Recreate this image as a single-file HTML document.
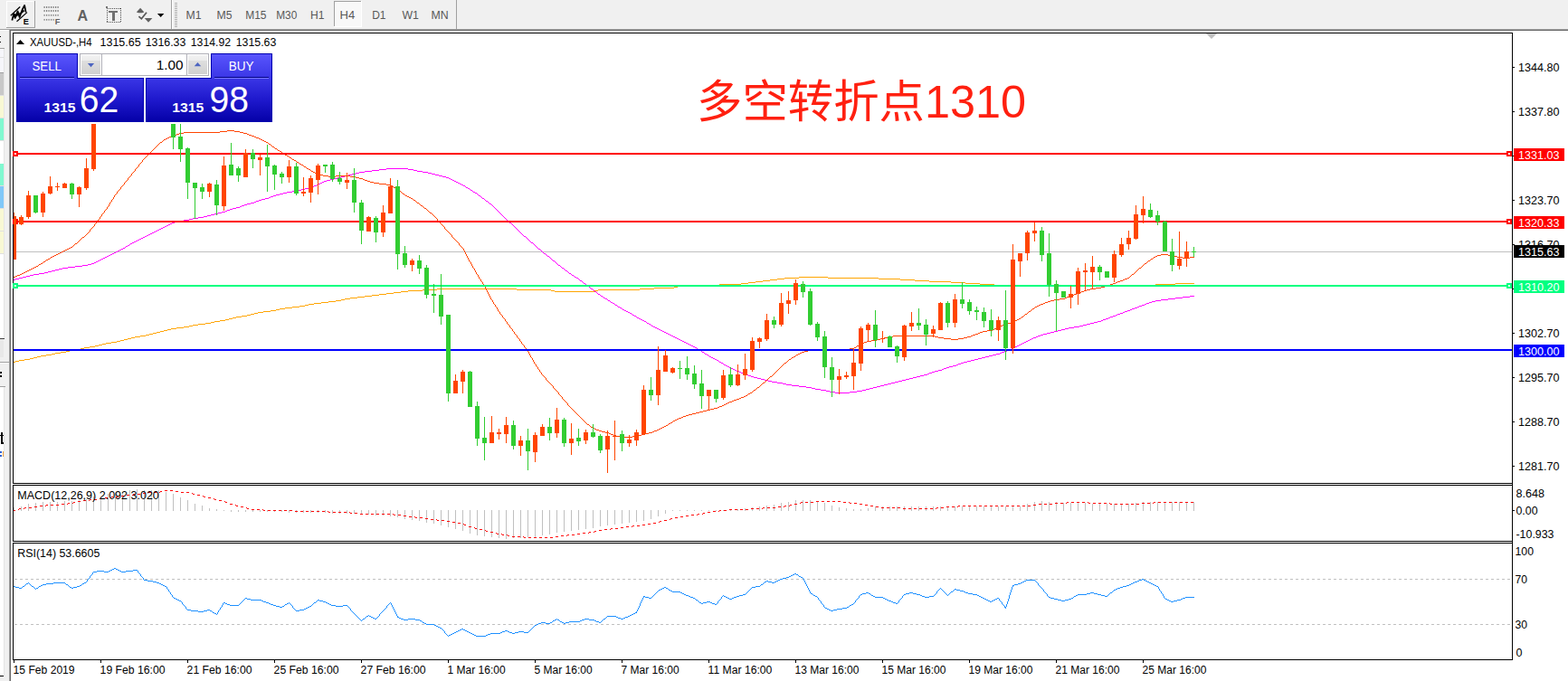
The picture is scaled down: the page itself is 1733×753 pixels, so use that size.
<!DOCTYPE html>
<html><head><meta charset="utf-8"><title>XAUUSD H4</title><style>html,body{margin:0;padding:0;background:#fff;width:1733px;height:753px;overflow:hidden}</style></head><body>
<svg width="1733" height="753" viewBox="0 0 1733 753" style="display:block;font-family:'Liberation Sans',sans-serif">
<defs>
<linearGradient id="gs" gradientUnits="userSpaceOnUse" x1="0" y1="59" x2="0" y2="135"><stop offset="0" stop-color="#5a56fe"/><stop offset="0.36" stop-color="#3a36e6"/><stop offset="0.68" stop-color="#1e18cc"/><stop offset="1" stop-color="#0400a6"/></linearGradient>
<linearGradient id="gb" x1="0" y1="0" x2="0" y2="1"><stop offset="0" stop-color="#f2f2f2"/><stop offset="0.27" stop-color="#ececec"/><stop offset="0.3" stop-color="#dedede"/><stop offset="1" stop-color="#d0d0d0"/></linearGradient>
<clipPath id="cm"><rect x="15" y="37" width="1656" height="497"/></clipPath>
</defs>
<g shape-rendering="crispEdges">
<rect x="0" y="0" width="1733" height="753" fill="#fff"/>
<rect x="0" y="0" width="1733" height="32" fill="#f0f0f0"/>
<rect x="0" y="32" width="1733" height="1" fill="#a0a0a0"/>
<rect x="10" y="33" width="1723" height="1" fill="#696969"/>
<rect x="0" y="34" width="10" height="719" fill="#f0f0f0"/>
<rect x="10" y="33" width="1" height="720" fill="#a0a0a0"/>
<rect x="11" y="33" width="1" height="720" fill="#696969"/>
<rect x="0" y="40" width="1" height="1" fill="#000"/>
<rect x="0" y="46" width="1" height="1" fill="#000"/>
<rect x="0" y="53" width="5" height="1" fill="#a0a0a0"/>
<rect x="0" y="54" width="5" height="26" fill="#f6f6fa"/>
<rect x="0" y="63" width="5" height="1" fill="#e0e0e0"/>
<rect x="0" y="80" width="4" height="1" fill="#a0a0a0"/>
<rect x="0" y="81" width="4" height="25" fill="#c8c8c8"/>
<rect x="0" y="105" width="4" height="1" fill="#e0e0e0"/>
<rect x="0" y="106" width="4" height="25" fill="#f8f8d4"/>
<rect x="0" y="130" width="4" height="1" fill="#e0e0e0"/>
<rect x="0" y="131" width="4" height="25" fill="#80f8d0"/>
<rect x="0" y="155" width="4" height="1" fill="#e0e0e0"/>
<rect x="0" y="156" width="4" height="25" fill="#ffffff"/>
<rect x="0" y="181" width="4" height="25" fill="#80f8d0"/>
<rect x="0" y="205" width="4" height="1" fill="#e0e0e0"/>
<rect x="0" y="206" width="4" height="25" fill="#80c8f8"/>
<rect x="0" y="230" width="4" height="1" fill="#e0e0e0"/>
<rect x="0" y="231" width="4" height="25" fill="#f8f8d4"/>
<rect x="0" y="255" width="4" height="1" fill="#e0e0e0"/>
<rect x="0" y="256" width="4" height="25" fill="#f8f8d4"/>
<rect x="0" y="280" width="4" height="1" fill="#e0e0e0"/>
<rect x="0" y="281" width="4" height="93" fill="#ffffff"/>
<rect x="4" y="54" width="1" height="320" fill="#e4e4e4"/>
<rect x="0" y="374" width="5" height="1" fill="#404040"/>
<rect x="0" y="375" width="4" height="20" fill="#e8e8e8"/>
<rect x="0" y="400" width="10" height="1" fill="#a0a0a0"/>
<rect x="0" y="401" width="10" height="1" fill="#fff"/>
<rect x="0" y="411" width="2" height="2" fill="#000"/>
<rect x="0" y="415" width="2" height="2" fill="#000"/>
<rect x="0" y="427" width="6" height="1" fill="#a0a0a0"/>
<rect x="0" y="428" width="4" height="319" fill="#fff"/>
<rect x="4" y="428" width="1" height="319" fill="#e4e4e4"/>
<rect x="0" y="747" width="4" height="1" fill="#000"/>
<rect x="1" y="478" width="2" height="13" fill="#000"/>
<rect x="0" y="481" width="4" height="1" fill="#000"/>
<rect x="2" y="489" width="2" height="2" fill="#000"/>
<rect x="0" y="499" width="2" height="2" fill="#3060d0"/>
<rect x="0" y="503" width="2" height="2" fill="#3060d0"/>
<rect x="3" y="499" width="1" height="6" fill="#f0a040"/>
<rect x="14" y="36" width="1658" height="1" fill="#000"/>
<rect x="14" y="534" width="1658" height="1" fill="#000"/>
<rect x="14" y="36" width="1" height="499" fill="#000"/>
<rect x="14" y="536" width="1658" height="1" fill="#000"/>
<rect x="14" y="598" width="1658" height="1" fill="#000"/>
<rect x="14" y="536" width="1" height="63" fill="#000"/>
<rect x="14" y="600" width="1658" height="1" fill="#000"/>
<rect x="14" y="729" width="1658" height="1" fill="#000"/>
<rect x="14" y="600" width="1" height="130" fill="#000"/>
<rect x="1671" y="36" width="1" height="694" fill="#000"/>
<polygon points="1333,37 1345,37 1339,43" fill="#c0c0c0" shape-rendering="auto"/>
<g clip-path="url(#cm)">
<rect x="15" y="278" width="1656" height="1" fill="#c0c0c0"/>
<path d="M267,349h6v1h-6zM233,356h4v1h-4zM851,309h8v1h-8zM995,309h16v1h-16zM771,315h24v1h-24zM1099,315h40v1h-40zM1273,315h4v1h-4zM749,316h22v1h-22zM1139,316h134v1h-134zM443,322h8v1h-8zM613,322h44v1h-44zM819,313h8v1h-8zM1067,313h16v1h-16zM1299,313h21v1h-21zM253,352h4v1h-4zM859,308h8v1h-8zM971,308h24v1h-24zM355,334h8v1h-8zM795,314h24v1h-24zM1083,314h16v1h-16zM1277,314h22v1h-22zM467,320h16v1h-16zM571,320h38v1h-38zM661,320h46v1h-46zM395,328h8v1h-8zM37,395h4v1h-4zM867,307h16v1h-16zM915,307h56v1h-56zM281,346h4v1h-4zM387,329h8v1h-8zM883,306h32v1h-32zM483,319h88v1h-88zM707,319h16v1h-16zM243,354h6v1h-6zM309,341h6v1h-6zM381,330h6v1h-6zM377,331h4v1h-4zM291,344h8v1h-8zM51,392h6v1h-6zM723,318h22v1h-22zM73,388h4v1h-4zM67,389h6v1h-6zM315,340h8v1h-8zM827,312h8v1h-8zM1051,312h16v1h-16zM305,342h4v1h-4zM347,335h8v1h-8zM161,370h4v1h-4zM129,377h4v1h-4zM89,385h4v1h-4zM155,371h6v1h-6zM189,363h6v1h-6zM835,311h8v1h-8zM1027,311h24v1h-24zM149,372h6v1h-6zM177,366h4v1h-4zM137,375h4v1h-4zM203,361h6v1h-6zM165,369h4v1h-4zM341,336h6v1h-6zM411,326h8v1h-8zM745,317h4v1h-4zM123,378h6v1h-6zM337,337h4v1h-4zM117,379h6v1h-6zM219,358h8v1h-8zM427,324h8v1h-8zM237,355h6v1h-6zM227,357h6v1h-6zM843,310h8v1h-8zM1011,310h16v1h-16zM61,390h6v1h-6zM27,397h6v1h-6zM451,321h16v1h-16zM609,321h4v1h-4zM657,321h4v1h-4zM45,393h6v1h-6zM15,400h2v1h-2zM41,394h4v1h-4zM403,327h8v1h-8zM331,338h6v1h-6zM323,339h8v1h-8zM105,382h4v1h-4zM99,383h6v1h-6zM93,384h6v1h-6zM213,359h6v1h-6zM249,353h4v1h-4zM371,332h6v1h-6zM261,350h6v1h-6zM257,351h4v1h-4zM435,323h8v1h-8zM277,347h4v1h-4zM21,398h6v1h-6zM77,387h6v1h-6zM83,386h6v1h-6zM113,380h4v1h-4zM195,362h8v1h-8zM419,325h8v1h-8zM141,374h4v1h-4zM299,343h6v1h-6zM145,373h4v1h-4zM133,376h4v1h-4zM173,367h4v1h-4zM185,364h4v1h-4zM209,360h4v1h-4zM285,345h6v1h-6zM273,348h4v1h-4zM363,333h8v1h-8zM57,391h4v1h-4zM33,396h4v1h-4zM109,381h4v1h-4zM169,368h4v1h-4zM181,365h4v1h-4zM17,399h4v1h-4z" fill="#ffa500"/>
<path d="M696,346h2v1h-2zM1238,346h3v1h-3zM419,187h8v1h-8zM451,187h6v1h-6zM254,231h3v1h-3zM350,204h2v1h-2zM510,204h2v1h-2zM403,189h8v1h-8zM461,189h6v1h-6zM822,413h3v1h-3zM1025,413h2v1h-2zM313,213h4v1h-4zM525,213h2v1h-2zM710,354h2v1h-2zM1217,354h2v1h-2zM766,383h2v1h-2zM1122,383h2v1h-2zM104,290h2v1h-2zM57,299h4v1h-4zM625,299h2v1h-2zM768,384h2v1h-2zM1120,384h2v1h-2zM760,380h2v1h-2zM1128,380h2v1h-2zM203,243h6v1h-6zM830,416h3v1h-3zM1013,416h4v1h-4zM667,329h2v1h-2zM1299,329h8v1h-8zM715,357h2v1h-2zM1205,357h4v1h-4zM1265,336h2v1h-2zM776,389h2v1h-2zM1107,389h3v1h-3zM427,186h24v1h-24zM385,193h4v1h-4zM481,193h4v1h-4zM883,427h8v1h-8zM969,427h4v1h-4zM393,191h4v1h-4zM473,191h4v1h-4zM841,419h4v1h-4zM1001,419h4v1h-4zM720,360h2v1h-2zM1193,360h4v1h-4zM781,392h2v1h-2zM1097,392h4v1h-4zM923,434h16v1h-16zM108,288h2v1h-2zM611,288h2v1h-2zM683,339h2v1h-2zM1257,339h2v1h-2zM764,382h2v1h-2zM1124,382h2v1h-2zM69,296h6v1h-6zM621,296h2v1h-2zM738,369h2v1h-2zM1153,369h4v1h-4zM685,340h2v1h-2zM1254,340h3v1h-3zM219,240h6v1h-6zM797,401h2v1h-2zM1062,401h3v1h-3zM853,422h6v1h-6zM989,422h4v1h-4zM657,322h2v1h-2zM786,395h2v1h-2zM1085,395h4v1h-4zM245,234h4v1h-4zM128,278h2v1h-2zM411,188h8v1h-8zM457,188h4v1h-4zM790,397h2v1h-2zM1077,397h4v1h-4zM347,205h3v1h-3zM512,205h2v1h-2zM15,309h2v1h-2zM297,218h2v1h-2zM152,265h2v1h-2zM913,432h4v1h-4zM947,432h6v1h-6zM146,268h2v1h-2zM587,268h2v1h-2zM345,206h2v1h-2zM172,255h2v1h-2zM302,216h3v1h-3zM529,216h2v1h-2zM869,425h6v1h-6zM977,425h4v1h-4zM833,417h4v1h-4zM1009,417h4v1h-4zM792,398h2v1h-2zM1073,398h4v1h-4zM233,237h4v1h-4zM110,287h2v1h-2zM43,302h6v1h-6zM629,302h2v1h-2zM358,200h3v1h-3zM502,200h2v1h-2zM891,428h6v1h-6zM965,428h4v1h-4zM286,221h3v1h-3zM37,303h6v1h-6zM184,249h2v1h-2zM672,332h2v1h-2zM1277,332h6v1h-6zM381,194h4v1h-4zM485,194h4v1h-4zM680,337h2v1h-2zM1262,337h3v1h-3zM740,370h2v1h-2zM1150,370h3v1h-3zM859,423h6v1h-6zM985,423h4v1h-4zM784,394h2v1h-2zM1089,394h4v1h-4zM800,403h2v1h-2zM1057,403h2v1h-2zM25,306h4v1h-4zM635,306h2v1h-2zM653,319h2v1h-2zM907,431h6v1h-6zM953,431h4v1h-4zM744,372h2v1h-2zM1145,372h2v1h-2zM97,292h4v1h-4zM1273,333h4v1h-4zM369,197h4v1h-4zM496,197h2v1h-2zM694,345h2v1h-2zM1241,345h2v1h-2zM91,293h6v1h-6zM617,293h2v1h-2zM305,215h4v1h-4zM277,224h4v1h-4zM677,335h2v1h-2zM1267,335h3v1h-3zM806,406h2v1h-2zM1046,406h3v1h-3zM83,294h8v1h-8zM708,353h2v1h-2zM1219,353h3v1h-3zM814,410h3v1h-3zM1033,410h4v1h-4zM389,192h4v1h-4zM477,192h4v1h-4zM875,426h8v1h-8zM973,426h4v1h-4zM1283,331h8v1h-8zM101,291h3v1h-3zM771,386h2v1h-2zM1115,386h3v1h-3zM1118,385h2v1h-2zM773,387h2v1h-2zM1113,387h2v1h-2zM649,316h2v1h-2zM273,225h4v1h-4zM541,225h2v1h-2zM661,325h2v1h-2zM675,334h2v1h-2zM1270,334h3v1h-3zM176,253h2v1h-2zM756,378h2v1h-2zM1132,378h2v1h-2zM758,379h2v1h-2zM1130,379h2v1h-2zM122,281h2v1h-2zM750,375h2v1h-2zM1138,375h2v1h-2zM118,283h2v1h-2zM605,283h2v1h-2zM267,227h3v1h-3zM1259,338h3v1h-3zM812,409h2v1h-2zM1037,409h4v1h-4zM827,415h3v1h-3zM1017,415h4v1h-4zM779,391h2v1h-2zM1101,391h4v1h-4zM1227,350h3v1h-3zM819,412h3v1h-3zM1027,412h3v1h-3zM136,274h2v1h-2zM688,342h2v1h-2zM1249,342h2v1h-2zM337,208h4v1h-4zM517,208h2v1h-2zM1307,328h8v1h-8zM897,429h4v1h-4zM961,429h4v1h-4zM732,366h2v1h-2zM1165,366h4v1h-4zM193,245h4v1h-4zM323,211h6v1h-6zM1251,341h3v1h-3zM917,433h6v1h-6zM939,433h8v1h-8zM309,214h4v1h-4zM33,304h4v1h-4zM632,304h2v1h-2zM901,430h6v1h-6zM957,430h4v1h-4zM241,235h4v1h-4zM299,217h3v1h-3zM730,365h2v1h-2zM1169,365h4v1h-4zM1235,347h3v1h-3zM166,258h2v1h-2zM1069,399h4v1h-4zM75,295h8v1h-8zM736,368h2v1h-2zM1157,368h4v1h-4zM706,352h2v1h-2zM1222,352h3v1h-3zM699,348h2v1h-2zM1233,348h2v1h-2zM289,220h4v1h-4zM130,277h2v1h-2zM664,327h2v1h-2zM1315,327h5v1h-5zM126,279h2v1h-2zM762,381h2v1h-2zM1126,381h2v1h-2zM49,301h4v1h-4zM329,210h4v1h-4zM520,210h2v1h-2zM160,261h2v1h-2zM579,261h2v1h-2zM180,251h2v1h-2zM373,196h4v1h-4zM493,196h3v1h-3zM361,199h4v1h-4zM500,199h2v1h-2zM356,201h2v1h-2zM504,201h2v1h-2zM397,190h6v1h-6zM467,190h6v1h-6zM154,264h2v1h-2zM168,257h2v1h-2zM61,298h4v1h-4zM341,207h4v1h-4zM515,207h2v1h-2zM742,371h2v1h-2zM1147,371h3v1h-3zM754,377h2v1h-2zM1134,377h2v1h-2zM114,285h2v1h-2zM257,230h4v1h-4zM251,232h3v1h-3zM712,355h2v1h-2zM1213,355h4v1h-4zM156,263h2v1h-2zM1105,390h2v1h-2zM229,238h4v1h-4zM845,420h4v1h-4zM997,420h4v1h-4zM722,361h2v1h-2zM1187,361h6v1h-6zM213,241h6v1h-6zM1093,393h4v1h-4zM690,343h2v1h-2zM1246,343h3v1h-3zM1110,388h3v1h-3zM65,297h4v1h-4zM724,362h2v1h-2zM1181,362h6v1h-6zM377,195h4v1h-4zM489,195h4v1h-4zM21,307h4v1h-4zM637,307h2v1h-2zM164,259h2v1h-2zM788,396h2v1h-2zM1081,396h4v1h-4zM162,260h2v1h-2zM148,267h2v1h-2zM53,300h4v1h-4zM365,198h4v1h-4zM498,198h2v1h-2zM144,269h2v1h-2zM1059,402h3v1h-3zM186,248h2v1h-2zM182,250h2v1h-2zM746,373h2v1h-2zM1142,373h3v1h-3zM748,374h2v1h-2zM1140,374h2v1h-2zM849,421h4v1h-4zM993,421h4v1h-4zM354,202h2v1h-2zM506,202h2v1h-2zM825,414h2v1h-2zM1021,414h4v1h-4zM669,330h2v1h-2zM1291,330h8v1h-8zM817,411h2v1h-2zM1030,411h3v1h-3zM352,203h2v1h-2zM508,203h2v1h-2zM174,254h2v1h-2zM837,418h4v1h-4zM1005,418h4v1h-4zM265,228h2v1h-2zM704,351h2v1h-2zM1225,351h2v1h-2zM134,275h2v1h-2zM595,275h2v1h-2zM317,212h6v1h-6zM523,212h2v1h-2zM717,358h2v1h-2zM1201,358h4v1h-4zM333,209h4v1h-4zM190,246h3v1h-3zM563,246h2v1h-2zM283,222h3v1h-3zM537,222h2v1h-2zM802,404h2v1h-2zM1053,404h4v1h-4zM645,313h2v1h-2zM726,363h2v1h-2zM1177,363h4v1h-4zM29,305h4v1h-4zM752,376h2v1h-2zM1136,376h2v1h-2zM17,308h4v1h-4zM293,219h4v1h-4zM533,219h2v1h-2zM150,266h2v1h-2zM225,239h4v1h-4zM178,252h2v1h-2zM170,256h2v1h-2zM808,407h2v1h-2zM1043,407h3v1h-3zM139,272h2v1h-2zM116,284h2v1h-2zM249,233h2v1h-2zM270,226h3v1h-3zM1197,359h4v1h-4zM795,400h2v1h-2zM1065,400h4v1h-4zM692,344h2v1h-2zM1243,344h3v1h-3zM141,271h2v1h-2zM106,289h2v1h-2zM124,280h2v1h-2zM601,280h2v1h-2zM261,229h4v1h-4zM158,262h2v1h-2zM112,286h2v1h-2zM197,244h6v1h-6zM804,405h2v1h-2zM1049,405h4v1h-4zM132,276h2v1h-2zM865,424h4v1h-4zM981,424h4v1h-4zM728,364h2v1h-2zM1173,364h4v1h-4zM734,367h2v1h-2zM1161,367h4v1h-4zM188,247h2v1h-2zM810,408h2v1h-2zM1041,408h2v1h-2zM701,349h2v1h-2zM1230,349h3v1h-3zM120,282h2v1h-2zM209,242h4v1h-4zM237,236h4v1h-4zM1209,356h4v1h-4zM281,223h2v1h-2zM641,310h2v1h-2zM548,231h1v1h-1zM663,326h1v1h-1zM614,290h1v1h-1zM644,312h1v1h-1zM560,243h1v1h-1zM679,336h1v1h-1zM557,240h1v1h-1zM551,234h1v1h-1zM659,323h1v1h-1zM599,278h1v1h-1zM640,309h1v1h-1zM532,218h1v1h-1zM584,265h1v1h-1zM514,206h1v1h-1zM573,255h1v1h-1zM554,237h1v1h-1zM610,287h1v1h-1zM536,221h1v1h-1zM631,303h1v1h-1zM567,249h1v1h-1zM616,292h1v1h-1zM674,333h1v1h-1zM528,215h1v1h-1zM540,224h1v1h-1zM619,294h1v1h-1zM671,331h1v1h-1zM615,291h1v1h-1zM770,385h1v1h-1zM571,253h1v1h-1zM603,281h1v1h-1zM544,227h1v1h-1zM682,338h1v1h-1zM703,350h1v1h-1zM594,274h1v1h-1zM666,328h1v1h-1zM562,245h1v1h-1zM522,211h1v1h-1zM687,341h1v1h-1zM527,214h1v1h-1zM552,235h1v1h-1zM531,217h1v1h-1zM698,347h1v1h-1zM576,258h1v1h-1zM794,399h1v1h-1zM620,295h1v1h-1zM535,220h1v1h-1zM598,277h1v1h-1zM600,279h1v1h-1zM628,301h1v1h-1zM569,251h1v1h-1zM583,264h1v1h-1zM575,257h1v1h-1zM624,298h1v1h-1zM608,285h1v1h-1zM547,230h1v1h-1zM549,232h1v1h-1zM582,263h1v1h-1zM778,390h1v1h-1zM555,238h1v1h-1zM558,241h1v1h-1zM783,393h1v1h-1zM652,318h1v1h-1zM775,388h1v1h-1zM623,297h1v1h-1zM577,259h1v1h-1zM578,260h1v1h-1zM586,267h1v1h-1zM627,300h1v1h-1zM589,269h1v1h-1zM799,402h1v1h-1zM566,248h1v1h-1zM568,250h1v1h-1zM643,311h1v1h-1zM572,254h1v1h-1zM545,228h1v1h-1zM519,209h1v1h-1zM634,305h1v1h-1zM639,308h1v1h-1zM585,266h1v1h-1zM556,239h1v1h-1zM570,252h1v1h-1zM574,256h1v1h-1zM655,320h1v1h-1zM592,272h1v1h-1zM607,284h1v1h-1zM550,233h1v1h-1zM543,226h1v1h-1zM719,359h1v1h-1zM591,271h1v1h-1zM613,289h1v1h-1zM546,229h1v1h-1zM581,262h1v1h-1zM609,286h1v1h-1zM561,244h1v1h-1zM597,276h1v1h-1zM565,247h1v1h-1zM143,270h1v1h-1zM590,270h1v1h-1zM138,273h1v1h-1zM593,273h1v1h-1zM604,282h1v1h-1zM559,242h1v1h-1zM553,236h1v1h-1zM714,356h1v1h-1zM539,223h1v1h-1zM660,324h1v1h-1zM656,321h1v1h-1zM651,317h1v1h-1zM647,314h1v1h-1zM648,315h1v1h-1z" fill="#ff00ff"/>
<path d="M36,296h2v1h-2zM1259,296h2v1h-2zM880,392h2v1h-2zM750,462h3v1h-3zM1195,322h3v1h-3zM987,371h46v1h-46zM1073,371h2v1h-2zM56,284h2v1h-2zM1275,284h2v1h-2zM1301,284h6v1h-6zM1315,284h5v1h-5zM336,184h2v1h-2zM1190,324h3v1h-3zM1179,328h3v1h-3zM83,269h2v1h-2zM1158,333h3v1h-3zM475,235h2v1h-2zM15,306h2v1h-2zM1129,350h2v1h-2zM1155,334h3v1h-3zM437,208h2v1h-2zM427,204h5v1h-5zM457,221h2v1h-2zM741,467h2v1h-2zM304,164h2v1h-2zM795,449h3v1h-3zM734,471h2v1h-2zM1106,360h2v1h-2zM915,386h24v1h-24zM203,146h40v1h-40zM265,146h4v1h-4zM973,374h4v1h-4zM1043,374h8v1h-8zM1059,374h6v1h-6zM91,262h2v1h-2zM753,461h2v1h-2zM1165,331h6v1h-6zM958,377h5v1h-5zM1225,315h2v1h-2zM177,157h2v1h-2zM294,157h2v1h-2zM323,176h2v1h-2zM1201,320h4v1h-4zM675,480h3v1h-3zM709,480h4v1h-4zM325,177h2v1h-2zM829,434h2v1h-2zM297,159h2v1h-2zM28,300h2v1h-2zM977,373h4v1h-4zM1037,373h6v1h-6zM1065,373h4v1h-4zM195,148h3v1h-3zM273,148h2v1h-2zM817,440h2v1h-2zM653,472h2v1h-2zM732,472h2v1h-2zM51,287h2v1h-2zM452,218h2v1h-2zM445,214h2v1h-2zM1086,366h5v1h-5zM357,194h6v1h-6zM371,194h16v1h-16zM1238,310h3v1h-3zM963,376h6v1h-6zM969,375h4v1h-4zM1051,375h8v1h-8zM38,295h2v1h-2zM243,145h8v1h-8zM259,145h6v1h-6zM1078,369h3v1h-3zM26,301h2v1h-2zM659,475h3v1h-3zM726,475h2v1h-2zM406,200h3v1h-3zM1198,321h3v1h-3zM685,483h14v1h-14zM346,190h2v1h-2zM665,477h4v1h-4zM721,477h2v1h-2zM872,397h2v1h-2zM30,299h2v1h-2zM339,186h2v1h-2zM312,169h2v1h-2zM465,227h2v1h-2zM744,465h2v1h-2zM320,174h2v1h-2zM802,446h2v1h-2zM1148,337h2v1h-2zM827,435h2v1h-2zM649,469h2v1h-2zM183,153h2v1h-2zM286,153h2v1h-2zM441,211h2v1h-2zM187,151h3v1h-3zM281,151h2v1h-2zM1120,355h2v1h-2zM62,281h2v1h-2zM1283,281h8v1h-8zM889,388h4v1h-4zM662,476h3v1h-3zM723,476h3v1h-3zM785,452h4v1h-4zM397,197h4v1h-4zM341,187h2v1h-2zM1193,323h2v1h-2zM1217,317h4v1h-4zM947,382h2v1h-2zM307,166h2v1h-2zM461,224h2v1h-2zM773,455h4v1h-4zM53,286h2v1h-2zM1272,286h2v1h-2zM1211,318h6v1h-6zM309,167h2v1h-2zM811,442h3v1h-3zM435,207h2v1h-2zM76,274h2v1h-2zM761,458h4v1h-4zM72,276h2v1h-2zM843,423h2v1h-2zM819,439h3v1h-3zM34,297h2v1h-2zM363,195h8v1h-8zM387,195h6v1h-6zM882,391h2v1h-2zM58,283h2v1h-2zM1277,283h2v1h-2zM1297,283h4v1h-4zM681,482h4v1h-4zM699,482h6v1h-6zM804,445h2v1h-2zM432,205h2v1h-2zM450,217h2v1h-2zM469,230h2v1h-2zM893,387h22v1h-22zM1243,308h3v1h-3zM655,473h2v1h-2zM730,473h2v1h-2zM1083,367h3v1h-3zM403,199h3v1h-3zM1227,314h3v1h-3zM1205,319h6v1h-6zM344,189h2v1h-2zM24,302h2v1h-2zM806,444h3v1h-3zM1097,364h2v1h-2zM290,155h2v1h-2zM292,156h2v1h-2zM185,152h2v1h-2zM283,152h3v1h-3zM1182,327h3v1h-3zM48,289h2v1h-2zM1113,357h4v1h-4zM1235,311h3v1h-3zM1171,330h6v1h-6zM955,378h3v1h-3zM1075,370h3v1h-3zM981,372h6v1h-6zM1033,372h4v1h-4zM1069,372h4v1h-4zM1307,285h8v1h-8zM419,203h8v1h-8zM798,448h2v1h-2zM60,282h2v1h-2zM1279,282h4v1h-4zM1291,282h6v1h-6zM1144,339h2v1h-2zM17,305h2v1h-2zM814,441h3v1h-3zM781,453h4v1h-4zM251,144h8v1h-8zM678,481h3v1h-3zM705,481h4v1h-4zM669,478h4v1h-4zM717,478h4v1h-4zM328,179h2v1h-2zM301,162h2v1h-2zM833,431h2v1h-2zM1185,326h2v1h-2zM944,384h2v1h-2zM448,216h2v1h-2zM19,304h3v1h-3zM1110,358h3v1h-3zM1108,359h2v1h-2zM953,379h2v1h-2zM789,451h4v1h-4zM401,198h2v1h-2zM748,463h2v1h-2zM777,454h4v1h-4zM1187,325h3v1h-3zM315,171h2v1h-2zM181,154h2v1h-2zM288,154h2v1h-2zM1246,307h2v1h-2zM1177,329h2v1h-2zM1153,335h2v1h-2zM1099,363h3v1h-3zM1150,336h3v1h-3zM1141,341h2v1h-2zM1117,356h3v1h-3zM1104,361h2v1h-2zM193,149h2v1h-2zM275,149h3v1h-3zM1102,362h2v1h-2zM45,291h2v1h-2zM1265,291h2v1h-2zM793,450h2v1h-2zM951,380h2v1h-2zM949,381h2v1h-2zM1233,312h2v1h-2zM1137,344h2v1h-2zM22,303h2v1h-2zM1251,303h2v1h-2zM1221,316h4v1h-4zM769,456h4v1h-4zM886,389h3v1h-3zM1146,338h2v1h-2zM657,474h2v1h-2zM728,474h2v1h-2zM190,150h3v1h-3zM278,150h3v1h-3zM74,275h2v1h-2zM198,147h5v1h-5zM269,147h4v1h-4zM758,459h3v1h-3zM1269,288h2v1h-2zM70,277h2v1h-2zM409,201h4v1h-4zM875,395h2v1h-2zM1124,353h2v1h-2zM877,394h2v1h-2zM673,479h2v1h-2zM713,479h4v1h-4zM1091,365h6v1h-6zM64,280h2v1h-2zM739,468h2v1h-2zM43,292h2v1h-2zM939,385h5v1h-5zM755,460h3v1h-3zM353,193h4v1h-4zM809,443h2v1h-2zM1081,368h2v1h-2zM1161,332h4v1h-4zM393,196h4v1h-4zM413,202h6v1h-6zM1126,352h2v1h-2zM884,390h2v1h-2zM32,298h2v1h-2zM837,428h2v1h-2zM68,278h2v1h-2zM350,192h3v1h-3zM822,438h2v1h-2zM1230,313h3v1h-3zM867,401h2v1h-2zM765,457h4v1h-4zM824,437h2v1h-2zM1133,347h2v1h-2zM78,273h2v1h-2zM1241,309h2v1h-2zM317,172h2v1h-2zM331,181h2v1h-2zM736,470h2v1h-2zM454,219h2v1h-2zM851,416h2v1h-2zM746,464h2v1h-2zM333,182h2v1h-2zM40,294h2v1h-2zM66,279h2v1h-2zM800,447h2v1h-2zM1122,354h2v1h-2zM348,191h2v1h-2zM523,296h1v1h-1zM585,391h1v2h-1zM642,462h1v1h-1zM538,321h1v2h-1zM571,371h1v2h-1zM516,283h1v2h-1zM152,184h1v1h-1zM539,323h1v2h-1zM541,327h1v2h-1zM507,269h1v2h-1zM544,332h1v2h-1zM603,418h1v2h-1zM848,419h1v1h-1zM96,258h1v1h-1zM497,258h1v1h-1zM134,206h1v1h-1zM434,206h1v1h-1zM114,235h1v1h-1zM529,306h1v2h-1zM1248,306h1v1h-1zM555,349h1v2h-1zM545,334h1v2h-1zM133,207h1v2h-1zM171,163h1v1h-1zM303,163h1v1h-1zM136,204h1v1h-1zM123,221h1v2h-1zM647,467h1v1h-1zM170,164h1v1h-1zM132,209h1v1h-1zM439,209h1v1h-1zM629,449h1v1h-1zM602,417h1v1h-1zM850,417h1v1h-1zM652,471h1v1h-1zM563,360h1v2h-1zM582,386h1v2h-1zM573,374h1v1h-1zM500,262h1v1h-1zM641,461h1v1h-1zM543,331h1v1h-1zM575,377h1v1h-1zM534,314h1v2h-1zM158,176h1v1h-1zM537,319h1v2h-1zM82,270h1v1h-1zM157,177h1v2h-1zM117,231h1v1h-1zM471,231h1v1h-1zM610,426h1v1h-1zM840,426h1v1h-1zM617,434h1v2h-1zM175,159h1v1h-1zM525,299h1v2h-1zM1255,300h1v1h-1zM572,373h1v1h-1zM621,439h1v2h-1zM518,287h1v2h-1zM1271,287h1v1h-1zM174,160h1v1h-1zM299,160h1v1h-1zM125,218h1v2h-1zM128,214h1v1h-1zM567,366h1v1h-1zM144,194h1v1h-1zM618,436h1v1h-1zM826,436h1v1h-1zM531,309h1v2h-1zM574,375h1v2h-1zM42,293h1v1h-1zM521,292h1v2h-1zM1263,293h1v1h-1zM592,403h1v2h-1zM864,404h1v1h-1zM522,294h1v2h-1zM1261,295h1v1h-1zM109,242h1v1h-1zM483,242h1v2h-1zM569,369h1v1h-1zM526,301h1v2h-1zM1254,301h1v1h-1zM139,200h1v1h-1zM147,190h1v1h-1zM588,396h1v2h-1zM1256,299h1v1h-1zM150,186h1v1h-1zM165,169h1v1h-1zM120,226h1v2h-1zM645,465h1v1h-1zM160,174h1v1h-1zM627,446h1v2h-1zM547,337h1v2h-1zM119,228h1v1h-1zM467,228h1v1h-1zM94,260h1v1h-1zM499,260h1v2h-1zM112,237h1v2h-1zM478,237h1v1h-1zM131,210h1v1h-1zM440,210h1v1h-1zM738,469h1v1h-1zM130,211h1v1h-1zM97,257h1v1h-1zM496,257h1v1h-1zM559,355h1v1h-1zM515,281h1v2h-1zM583,388h1v1h-1zM632,452h1v1h-1zM141,197h1v2h-1zM149,187h1v2h-1zM536,317h1v2h-1zM612,429h1v1h-1zM836,429h1v1h-1zM579,382h1v2h-1zM153,182h1v2h-1zM335,183h1v1h-1zM168,166h1v1h-1zM121,224h1v2h-1zM635,455h1v1h-1zM115,233h1v2h-1zM473,233h1v1h-1zM598,412h1v2h-1zM855,413h1v1h-1zM517,285h1v2h-1zM167,167h1v1h-1zM463,225h1v1h-1zM623,442h1v1h-1zM511,274h1v1h-1zM638,458h1v1h-1zM512,275h1v2h-1zM607,423h1v1h-1zM524,297h1v2h-1zM1258,297h1v1h-1zM143,195h1v1h-1zM589,398h1v2h-1zM870,399h1v1h-1zM586,393h1v2h-1zM879,393h1v1h-1zM849,418h1v1h-1zM155,180h1v1h-1zM330,180h1v1h-1zM626,445h1v1h-1zM135,205h1v1h-1zM126,216h1v2h-1zM118,229h1v2h-1zM530,308h1v1h-1zM151,185h1v1h-1zM338,185h1v1h-1zM568,367h1v2h-1zM140,199h1v1h-1zM148,189h1v1h-1zM596,409h1v2h-1zM858,410h1v1h-1zM1253,302h1v1h-1zM625,444h1v1h-1zM566,364h1v2h-1zM180,155h1v1h-1zM179,156h1v1h-1zM519,289h1v1h-1zM1268,289h1v1h-1zM560,356h1v2h-1zM532,311h1v1h-1zM542,329h1v2h-1zM90,263h1v1h-1zM501,263h1v1h-1zM552,345h1v2h-1zM1136,345h1v1h-1zM110,240h1v2h-1zM482,241h1v1h-1zM874,396h1v1h-1zM576,378h1v2h-1zM570,370h1v1h-1zM606,422h1v1h-1zM845,422h1v1h-1zM169,165h1v1h-1zM306,165h1v1h-1zM55,285h1v1h-1zM1274,285h1v1h-1zM87,266h1v1h-1zM504,266h1v1h-1zM137,202h1v2h-1zM628,448h1v1h-1zM590,400h1v2h-1zM869,400h1v1h-1zM548,339h1v1h-1zM528,304h1v2h-1zM1249,305h1v1h-1zM622,441h1v1h-1zM633,453h1v1h-1zM327,178h1v1h-1zM856,412h1v1h-1zM156,179h1v1h-1zM172,162h1v1h-1zM614,431h1v1h-1zM540,325h1v2h-1zM580,384h1v1h-1zM101,252h1v1h-1zM491,251h1v2h-1zM124,220h1v1h-1zM456,220h1v1h-1zM1250,304h1v1h-1zM561,358h1v1h-1zM129,212h1v2h-1zM443,212h1v1h-1zM562,359h1v1h-1zM631,451h1v1h-1zM643,463h1v1h-1zM634,454h1v1h-1zM111,239h1v1h-1zM480,239h1v1h-1zM1131,349h1v1h-1zM163,171h1v1h-1zM608,424h1v1h-1zM842,424h1v1h-1zM85,268h1v1h-1zM506,268h1v1h-1zM444,213h1v1h-1zM600,415h1v1h-1zM853,415h1v1h-1zM166,168h1v1h-1zM311,168h1v1h-1zM565,363h1v1h-1zM546,336h1v1h-1zM95,259h1v1h-1zM498,259h1v1h-1zM549,340h1v2h-1zM564,362h1v1h-1zM520,290h1v2h-1zM630,450h1v1h-1zM577,380h1v1h-1zM578,381h1v1h-1zM533,312h1v2h-1zM551,344h1v1h-1zM597,411h1v1h-1zM857,411h1v1h-1zM527,303h1v1h-1zM103,250h1v1h-1zM490,250h1v1h-1zM535,316h1v1h-1zM636,456h1v1h-1zM468,229h1v1h-1zM599,414h1v1h-1zM854,414h1v1h-1zM98,256h1v1h-1zM495,256h1v1h-1zM584,389h1v2h-1zM47,290h1v1h-1zM1267,290h1v1h-1zM639,459h1v1h-1zM1143,340h1v1h-1zM50,288h1v1h-1zM513,277h1v2h-1zM138,201h1v1h-1zM107,244h1v2h-1zM485,245h1v1h-1zM556,351h1v1h-1zM1128,351h1v1h-1zM587,395h1v1h-1zM613,430h1v1h-1zM835,430h1v1h-1zM558,353h1v2h-1zM604,420h1v1h-1zM847,420h1v1h-1zM605,421h1v1h-1zM846,421h1v1h-1zM81,271h1v1h-1zM508,271h1v1h-1zM89,264h1v1h-1zM502,264h1v1h-1zM88,265h1v1h-1zM503,265h1v1h-1zM127,215h1v1h-1zM447,215h1v1h-1zM593,405h1v1h-1zM863,405h1v1h-1zM514,279h1v2h-1zM459,222h1v1h-1zM116,232h1v1h-1zM472,232h1v1h-1zM105,247h1v1h-1zM487,247h1v1h-1zM648,468h1v1h-1zM1264,292h1v1h-1zM865,403h1v1h-1zM859,409h1v1h-1zM479,238h1v1h-1zM102,251h1v1h-1zM946,383h1v1h-1zM581,385h1v1h-1zM640,460h1v1h-1zM145,192h1v2h-1zM474,234h1v1h-1zM624,443h1v1h-1zM164,170h1v1h-1zM314,170h1v1h-1zM161,173h1v1h-1zM319,173h1v1h-1zM176,158h1v1h-1zM296,158h1v1h-1zM142,196h1v1h-1zM557,352h1v1h-1zM481,240h1v1h-1zM1135,346h1v1h-1zM80,272h1v1h-1zM509,272h1v1h-1zM550,342h1v2h-1zM1139,343h1v1h-1zM594,406h1v2h-1zM862,406h1v1h-1zM1257,298h1v1h-1zM484,244h1v1h-1zM108,243h1v1h-1zM611,427h1v2h-1zM86,267h1v1h-1zM505,267h1v1h-1zM591,402h1v1h-1zM866,402h1v1h-1zM106,246h1v1h-1zM486,246h1v1h-1zM609,425h1v1h-1zM841,425h1v1h-1zM343,188h1v1h-1zM620,438h1v1h-1zM554,348h1v1h-1zM1132,348h1v1h-1zM861,407h1v1h-1zM113,236h1v1h-1zM477,236h1v1h-1zM1140,342h1v1h-1zM637,457h1v1h-1zM619,437h1v1h-1zM553,347h1v1h-1zM839,427h1v1h-1zM464,226h1v1h-1zM100,253h1v1h-1zM492,253h1v1h-1zM510,273h1v1h-1zM99,254h1v2h-1zM494,255h1v1h-1zM162,172h1v1h-1zM154,181h1v1h-1zM651,470h1v1h-1zM122,223h1v1h-1zM460,223h1v1h-1zM173,161h1v1h-1zM300,161h1v1h-1zM646,466h1v1h-1zM743,466h1v1h-1zM595,408h1v1h-1zM860,408h1v1h-1zM615,432h1v1h-1zM832,432h1v1h-1zM104,248h1v2h-1zM488,248h1v1h-1zM616,433h1v1h-1zM831,433h1v1h-1zM489,249h1v1h-1zM93,261h1v1h-1zM601,416h1v1h-1zM493,254h1v1h-1zM644,464h1v1h-1zM1262,294h1v1h-1zM871,398h1v1h-1zM146,191h1v1h-1zM159,175h1v1h-1zM322,175h1v1h-1z" fill="#ff4500"/>
<rect x="15" y="169" width="1656" height="2" fill="#ff0000"/>
<rect x="15" y="244" width="1656" height="2" fill="#ff0000"/>
<rect x="15" y="315" width="1656" height="2" fill="#00ff80"/>
<rect x="15" y="386" width="1656" height="2" fill="#0000ff"/>
</g>
<rect x="14" y="167" width="6" height="6" fill="#ff0000"/>
<rect x="16" y="169" width="2" height="2" fill="#fff"/>
<rect x="1665" y="167" width="6" height="6" fill="#ff0000"/>
<rect x="1667" y="169" width="2" height="2" fill="#fff"/>
<rect x="14" y="242" width="6" height="6" fill="#ff0000"/>
<rect x="16" y="244" width="2" height="2" fill="#fff"/>
<rect x="1665" y="242" width="6" height="6" fill="#ff0000"/>
<rect x="1667" y="244" width="2" height="2" fill="#fff"/>
<rect x="14" y="313" width="6" height="6" fill="#00ff80"/>
<rect x="16" y="315" width="2" height="2" fill="#fff"/>
<rect x="1665" y="313" width="6" height="6" fill="#00ff80"/>
<rect x="1667" y="315" width="2" height="2" fill="#fff"/>
<g clip-path="url(#cm)">
<rect x="15" y="235" width="1" height="52" fill="#ff4500"/>
<rect x="13" y="239" width="5" height="48" fill="#ff4500"/>
<rect x="23" y="238" width="1" height="11" fill="#ff4500"/>
<rect x="21" y="240" width="5" height="8" fill="#ff4500"/>
<rect x="31" y="211" width="1" height="31" fill="#ff4500"/>
<rect x="29" y="216" width="5" height="24" fill="#ff4500"/>
<rect x="39" y="216" width="1" height="20" fill="#32cd32"/>
<rect x="37" y="216" width="5" height="19" fill="#32cd32"/>
<rect x="47" y="212" width="1" height="28" fill="#ff4500"/>
<rect x="45" y="214" width="5" height="21" fill="#ff4500"/>
<rect x="55" y="195" width="1" height="20" fill="#ff4500"/>
<rect x="53" y="206" width="5" height="8" fill="#ff4500"/>
<rect x="63" y="202" width="1" height="9" fill="#ff4500"/>
<rect x="61" y="206" width="5" height="1" fill="#ff4500"/>
<rect x="71" y="202" width="1" height="6" fill="#ff4500"/>
<rect x="69" y="203" width="5" height="5" fill="#ff4500"/>
<rect x="79" y="202" width="1" height="18" fill="#32cd32"/>
<rect x="77" y="203" width="5" height="12" fill="#32cd32"/>
<rect x="87" y="206" width="1" height="23" fill="#ff4500"/>
<rect x="85" y="207" width="5" height="8" fill="#ff4500"/>
<rect x="95" y="175" width="1" height="35" fill="#ff4500"/>
<rect x="93" y="186" width="5" height="22" fill="#ff4500"/>
<rect x="103" y="100" width="1" height="89" fill="#ff4500"/>
<rect x="101" y="100" width="5" height="87" fill="#ff4500"/>
<rect x="191" y="120" width="1" height="45" fill="#32cd32"/>
<rect x="189" y="120" width="5" height="32" fill="#32cd32"/>
<rect x="199" y="120" width="1" height="59" fill="#32cd32"/>
<rect x="197" y="151" width="5" height="14" fill="#32cd32"/>
<rect x="207" y="163" width="1" height="57" fill="#32cd32"/>
<rect x="205" y="164" width="5" height="38" fill="#32cd32"/>
<rect x="215" y="202" width="1" height="40" fill="#32cd32"/>
<rect x="213" y="202" width="5" height="6" fill="#32cd32"/>
<rect x="223" y="203" width="1" height="17" fill="#32cd32"/>
<rect x="221" y="207" width="5" height="5" fill="#32cd32"/>
<rect x="231" y="202" width="1" height="16" fill="#ff4500"/>
<rect x="229" y="203" width="5" height="9" fill="#ff4500"/>
<rect x="239" y="199" width="1" height="39" fill="#32cd32"/>
<rect x="237" y="204" width="5" height="23" fill="#32cd32"/>
<rect x="247" y="173" width="1" height="60" fill="#ff4500"/>
<rect x="245" y="183" width="5" height="45" fill="#ff4500"/>
<rect x="255" y="158" width="1" height="36" fill="#32cd32"/>
<rect x="253" y="182" width="5" height="12" fill="#32cd32"/>
<rect x="263" y="184" width="1" height="17" fill="#32cd32"/>
<rect x="261" y="186" width="5" height="8" fill="#32cd32"/>
<rect x="271" y="165" width="1" height="31" fill="#ff4500"/>
<rect x="269" y="169" width="5" height="27" fill="#ff4500"/>
<rect x="279" y="165" width="1" height="21" fill="#32cd32"/>
<rect x="277" y="169" width="5" height="7" fill="#32cd32"/>
<rect x="287" y="171" width="1" height="23" fill="#ff4500"/>
<rect x="285" y="174" width="5" height="3" fill="#ff4500"/>
<rect x="295" y="160" width="1" height="52" fill="#32cd32"/>
<rect x="293" y="174" width="5" height="10" fill="#32cd32"/>
<rect x="303" y="182" width="1" height="28" fill="#32cd32"/>
<rect x="301" y="183" width="5" height="10" fill="#32cd32"/>
<rect x="311" y="190" width="1" height="13" fill="#32cd32"/>
<rect x="309" y="192" width="5" height="4" fill="#32cd32"/>
<rect x="319" y="177" width="1" height="25" fill="#ff4500"/>
<rect x="317" y="184" width="5" height="12" fill="#ff4500"/>
<rect x="327" y="180" width="1" height="36" fill="#32cd32"/>
<rect x="325" y="184" width="5" height="30" fill="#32cd32"/>
<rect x="335" y="196" width="1" height="21" fill="#ff4500"/>
<rect x="333" y="212" width="5" height="2" fill="#ff4500"/>
<rect x="343" y="194" width="1" height="30" fill="#ff4500"/>
<rect x="341" y="197" width="5" height="16" fill="#ff4500"/>
<rect x="351" y="181" width="1" height="34" fill="#ff4500"/>
<rect x="349" y="183" width="5" height="16" fill="#ff4500"/>
<rect x="359" y="182" width="1" height="9" fill="#32cd32"/>
<rect x="357" y="182" width="5" height="2" fill="#32cd32"/>
<rect x="367" y="179" width="1" height="22" fill="#32cd32"/>
<rect x="365" y="182" width="5" height="16" fill="#32cd32"/>
<rect x="375" y="190" width="1" height="14" fill="#32cd32"/>
<rect x="373" y="197" width="5" height="4" fill="#32cd32"/>
<rect x="383" y="191" width="1" height="18" fill="#ff4500"/>
<rect x="381" y="199" width="5" height="3" fill="#ff4500"/>
<rect x="391" y="186" width="1" height="49" fill="#32cd32"/>
<rect x="389" y="199" width="5" height="25" fill="#32cd32"/>
<rect x="399" y="221" width="1" height="49" fill="#32cd32"/>
<rect x="397" y="224" width="5" height="31" fill="#32cd32"/>
<rect x="407" y="239" width="1" height="17" fill="#ff4500"/>
<rect x="405" y="240" width="5" height="16" fill="#ff4500"/>
<rect x="415" y="239" width="1" height="29" fill="#32cd32"/>
<rect x="413" y="241" width="5" height="16" fill="#32cd32"/>
<rect x="423" y="227" width="1" height="35" fill="#ff4500"/>
<rect x="421" y="235" width="5" height="22" fill="#ff4500"/>
<rect x="431" y="197" width="1" height="39" fill="#ff4500"/>
<rect x="429" y="206" width="5" height="30" fill="#ff4500"/>
<rect x="439" y="199" width="1" height="99" fill="#32cd32"/>
<rect x="437" y="206" width="5" height="75" fill="#32cd32"/>
<rect x="447" y="272" width="1" height="24" fill="#32cd32"/>
<rect x="445" y="280" width="5" height="13" fill="#32cd32"/>
<rect x="455" y="286" width="1" height="14" fill="#ff4500"/>
<rect x="453" y="288" width="5" height="5" fill="#ff4500"/>
<rect x="463" y="282" width="1" height="21" fill="#32cd32"/>
<rect x="461" y="288" width="5" height="9" fill="#32cd32"/>
<rect x="471" y="293" width="1" height="37" fill="#32cd32"/>
<rect x="469" y="296" width="5" height="30" fill="#32cd32"/>
<rect x="479" y="314" width="1" height="32" fill="#32cd32"/>
<rect x="477" y="325" width="5" height="2" fill="#32cd32"/>
<rect x="487" y="303" width="1" height="56" fill="#32cd32"/>
<rect x="485" y="326" width="5" height="24" fill="#32cd32"/>
<rect x="495" y="348" width="1" height="96" fill="#32cd32"/>
<rect x="493" y="348" width="5" height="87" fill="#32cd32"/>
<rect x="503" y="414" width="1" height="21" fill="#ff4500"/>
<rect x="501" y="421" width="5" height="14" fill="#ff4500"/>
<rect x="511" y="409" width="1" height="26" fill="#ff4500"/>
<rect x="509" y="411" width="5" height="11" fill="#ff4500"/>
<rect x="519" y="410" width="1" height="40" fill="#32cd32"/>
<rect x="517" y="411" width="5" height="39" fill="#32cd32"/>
<rect x="527" y="444" width="1" height="49" fill="#32cd32"/>
<rect x="525" y="449" width="5" height="36" fill="#32cd32"/>
<rect x="535" y="461" width="1" height="48" fill="#32cd32"/>
<rect x="533" y="484" width="5" height="6" fill="#32cd32"/>
<rect x="543" y="460" width="1" height="30" fill="#ff4500"/>
<rect x="541" y="478" width="5" height="12" fill="#ff4500"/>
<rect x="551" y="474" width="1" height="12" fill="#ff4500"/>
<rect x="549" y="478" width="5" height="2" fill="#ff4500"/>
<rect x="559" y="461" width="1" height="29" fill="#ff4500"/>
<rect x="557" y="470" width="5" height="10" fill="#ff4500"/>
<rect x="567" y="465" width="1" height="32" fill="#32cd32"/>
<rect x="565" y="470" width="5" height="23" fill="#32cd32"/>
<rect x="575" y="482" width="1" height="22" fill="#ff4500"/>
<rect x="573" y="487" width="5" height="6" fill="#ff4500"/>
<rect x="583" y="474" width="1" height="46" fill="#32cd32"/>
<rect x="581" y="487" width="5" height="12" fill="#32cd32"/>
<rect x="591" y="478" width="1" height="33" fill="#ff4500"/>
<rect x="589" y="481" width="5" height="19" fill="#ff4500"/>
<rect x="599" y="469" width="1" height="13" fill="#ff4500"/>
<rect x="597" y="472" width="5" height="10" fill="#ff4500"/>
<rect x="607" y="462" width="1" height="25" fill="#32cd32"/>
<rect x="605" y="472" width="5" height="7" fill="#32cd32"/>
<rect x="615" y="451" width="1" height="33" fill="#ff4500"/>
<rect x="613" y="464" width="5" height="15" fill="#ff4500"/>
<rect x="623" y="462" width="1" height="32" fill="#32cd32"/>
<rect x="621" y="464" width="5" height="26" fill="#32cd32"/>
<rect x="631" y="468" width="1" height="35" fill="#ff4500"/>
<rect x="629" y="485" width="5" height="5" fill="#ff4500"/>
<rect x="639" y="474" width="1" height="19" fill="#32cd32"/>
<rect x="637" y="484" width="5" height="4" fill="#32cd32"/>
<rect x="647" y="475" width="1" height="16" fill="#ff4500"/>
<rect x="645" y="478" width="5" height="9" fill="#ff4500"/>
<rect x="655" y="469" width="1" height="15" fill="#32cd32"/>
<rect x="653" y="478" width="5" height="5" fill="#32cd32"/>
<rect x="663" y="480" width="1" height="21" fill="#32cd32"/>
<rect x="661" y="482" width="5" height="16" fill="#32cd32"/>
<rect x="671" y="476" width="1" height="47" fill="#ff4500"/>
<rect x="669" y="482" width="5" height="15" fill="#ff4500"/>
<rect x="679" y="465" width="1" height="44" fill="#ff4500"/>
<rect x="677" y="482" width="5" height="1" fill="#ff4500"/>
<rect x="687" y="476" width="1" height="23" fill="#32cd32"/>
<rect x="685" y="480" width="5" height="10" fill="#32cd32"/>
<rect x="695" y="481" width="1" height="13" fill="#ff4500"/>
<rect x="693" y="486" width="5" height="4" fill="#ff4500"/>
<rect x="703" y="475" width="1" height="18" fill="#ff4500"/>
<rect x="701" y="478" width="5" height="9" fill="#ff4500"/>
<rect x="711" y="426" width="1" height="54" fill="#ff4500"/>
<rect x="709" y="431" width="5" height="49" fill="#ff4500"/>
<rect x="719" y="417" width="1" height="26" fill="#32cd32"/>
<rect x="717" y="431" width="5" height="6" fill="#32cd32"/>
<rect x="727" y="383" width="1" height="65" fill="#ff4500"/>
<rect x="725" y="409" width="5" height="28" fill="#ff4500"/>
<rect x="735" y="387" width="1" height="24" fill="#ff4500"/>
<rect x="733" y="393" width="5" height="18" fill="#ff4500"/>
<rect x="743" y="406" width="1" height="7" fill="#ff4500"/>
<rect x="741" y="407" width="5" height="5" fill="#ff4500"/>
<rect x="751" y="399" width="1" height="20" fill="#32cd32"/>
<rect x="749" y="407" width="5" height="1" fill="#32cd32"/>
<rect x="759" y="394" width="1" height="26" fill="#32cd32"/>
<rect x="757" y="407" width="5" height="7" fill="#32cd32"/>
<rect x="767" y="404" width="1" height="26" fill="#32cd32"/>
<rect x="765" y="413" width="5" height="12" fill="#32cd32"/>
<rect x="775" y="409" width="1" height="43" fill="#32cd32"/>
<rect x="773" y="424" width="5" height="14" fill="#32cd32"/>
<rect x="783" y="431" width="1" height="23" fill="#ff4500"/>
<rect x="781" y="431" width="5" height="7" fill="#ff4500"/>
<rect x="791" y="431" width="1" height="14" fill="#32cd32"/>
<rect x="789" y="431" width="5" height="10" fill="#32cd32"/>
<rect x="799" y="409" width="1" height="33" fill="#ff4500"/>
<rect x="797" y="415" width="5" height="25" fill="#ff4500"/>
<rect x="807" y="406" width="1" height="22" fill="#32cd32"/>
<rect x="805" y="414" width="5" height="12" fill="#32cd32"/>
<rect x="815" y="403" width="1" height="24" fill="#ff4500"/>
<rect x="813" y="414" width="5" height="12" fill="#ff4500"/>
<rect x="823" y="391" width="1" height="29" fill="#ff4500"/>
<rect x="821" y="408" width="5" height="7" fill="#ff4500"/>
<rect x="831" y="373" width="1" height="38" fill="#ff4500"/>
<rect x="829" y="377" width="5" height="32" fill="#ff4500"/>
<rect x="839" y="373" width="1" height="12" fill="#ff4500"/>
<rect x="837" y="374" width="5" height="4" fill="#ff4500"/>
<rect x="847" y="347" width="1" height="30" fill="#ff4500"/>
<rect x="845" y="354" width="5" height="21" fill="#ff4500"/>
<rect x="855" y="350" width="1" height="13" fill="#32cd32"/>
<rect x="853" y="354" width="5" height="5" fill="#32cd32"/>
<rect x="863" y="324" width="1" height="37" fill="#ff4500"/>
<rect x="861" y="335" width="5" height="24" fill="#ff4500"/>
<rect x="871" y="322" width="1" height="25" fill="#ff4500"/>
<rect x="869" y="332" width="5" height="4" fill="#ff4500"/>
<rect x="879" y="309" width="1" height="28" fill="#ff4500"/>
<rect x="877" y="313" width="5" height="19" fill="#ff4500"/>
<rect x="887" y="311" width="1" height="18" fill="#32cd32"/>
<rect x="885" y="314" width="5" height="9" fill="#32cd32"/>
<rect x="895" y="319" width="1" height="41" fill="#32cd32"/>
<rect x="893" y="322" width="5" height="37" fill="#32cd32"/>
<rect x="903" y="356" width="1" height="21" fill="#32cd32"/>
<rect x="901" y="358" width="5" height="15" fill="#32cd32"/>
<rect x="911" y="366" width="1" height="52" fill="#32cd32"/>
<rect x="909" y="372" width="5" height="34" fill="#32cd32"/>
<rect x="919" y="395" width="1" height="44" fill="#32cd32"/>
<rect x="917" y="406" width="5" height="14" fill="#32cd32"/>
<rect x="927" y="408" width="1" height="28" fill="#ff4500"/>
<rect x="925" y="416" width="5" height="4" fill="#ff4500"/>
<rect x="935" y="411" width="1" height="8" fill="#ff4500"/>
<rect x="933" y="415" width="5" height="2" fill="#ff4500"/>
<rect x="943" y="386" width="1" height="45" fill="#ff4500"/>
<rect x="941" y="401" width="5" height="15" fill="#ff4500"/>
<rect x="951" y="361" width="1" height="49" fill="#ff4500"/>
<rect x="949" y="363" width="5" height="39" fill="#ff4500"/>
<rect x="959" y="357" width="1" height="20" fill="#ff4500"/>
<rect x="957" y="359" width="5" height="6" fill="#ff4500"/>
<rect x="967" y="343" width="1" height="41" fill="#32cd32"/>
<rect x="965" y="359" width="5" height="17" fill="#32cd32"/>
<rect x="975" y="366" width="1" height="13" fill="#ff4500"/>
<rect x="973" y="374" width="5" height="1" fill="#ff4500"/>
<rect x="983" y="371" width="1" height="13" fill="#32cd32"/>
<rect x="981" y="372" width="5" height="12" fill="#32cd32"/>
<rect x="991" y="382" width="1" height="19" fill="#32cd32"/>
<rect x="989" y="383" width="5" height="11" fill="#32cd32"/>
<rect x="999" y="359" width="1" height="40" fill="#ff4500"/>
<rect x="997" y="360" width="5" height="35" fill="#ff4500"/>
<rect x="1007" y="345" width="1" height="21" fill="#ff4500"/>
<rect x="1005" y="357" width="5" height="4" fill="#ff4500"/>
<rect x="1015" y="341" width="1" height="24" fill="#32cd32"/>
<rect x="1013" y="357" width="5" height="3" fill="#32cd32"/>
<rect x="1023" y="353" width="1" height="29" fill="#32cd32"/>
<rect x="1021" y="359" width="5" height="11" fill="#32cd32"/>
<rect x="1031" y="360" width="1" height="13" fill="#ff4500"/>
<rect x="1029" y="364" width="5" height="5" fill="#ff4500"/>
<rect x="1039" y="334" width="1" height="31" fill="#ff4500"/>
<rect x="1037" y="335" width="5" height="30" fill="#ff4500"/>
<rect x="1047" y="333" width="1" height="29" fill="#32cd32"/>
<rect x="1045" y="335" width="5" height="22" fill="#32cd32"/>
<rect x="1055" y="325" width="1" height="37" fill="#ff4500"/>
<rect x="1053" y="331" width="5" height="26" fill="#ff4500"/>
<rect x="1063" y="312" width="1" height="29" fill="#32cd32"/>
<rect x="1061" y="331" width="5" height="5" fill="#32cd32"/>
<rect x="1071" y="331" width="1" height="17" fill="#32cd32"/>
<rect x="1069" y="334" width="5" height="10" fill="#32cd32"/>
<rect x="1079" y="339" width="1" height="15" fill="#32cd32"/>
<rect x="1077" y="343" width="5" height="2" fill="#32cd32"/>
<rect x="1087" y="340" width="1" height="22" fill="#32cd32"/>
<rect x="1085" y="345" width="5" height="10" fill="#32cd32"/>
<rect x="1095" y="342" width="1" height="30" fill="#32cd32"/>
<rect x="1093" y="354" width="5" height="11" fill="#32cd32"/>
<rect x="1103" y="350" width="1" height="27" fill="#ff4500"/>
<rect x="1101" y="354" width="5" height="11" fill="#ff4500"/>
<rect x="1111" y="321" width="1" height="77" fill="#32cd32"/>
<rect x="1109" y="354" width="5" height="31" fill="#32cd32"/>
<rect x="1119" y="270" width="1" height="121" fill="#ff4500"/>
<rect x="1117" y="287" width="5" height="98" fill="#ff4500"/>
<rect x="1127" y="280" width="1" height="26" fill="#ff4500"/>
<rect x="1125" y="280" width="5" height="9" fill="#ff4500"/>
<rect x="1135" y="255" width="1" height="33" fill="#ff4500"/>
<rect x="1133" y="257" width="5" height="23" fill="#ff4500"/>
<rect x="1143" y="246" width="1" height="21" fill="#ff4500"/>
<rect x="1141" y="255" width="5" height="3" fill="#ff4500"/>
<rect x="1151" y="251" width="1" height="38" fill="#32cd32"/>
<rect x="1149" y="255" width="5" height="27" fill="#32cd32"/>
<rect x="1159" y="258" width="1" height="70" fill="#32cd32"/>
<rect x="1157" y="280" width="5" height="35" fill="#32cd32"/>
<rect x="1167" y="310" width="1" height="56" fill="#32cd32"/>
<rect x="1165" y="314" width="5" height="10" fill="#32cd32"/>
<rect x="1175" y="322" width="1" height="7" fill="#32cd32"/>
<rect x="1173" y="322" width="5" height="7" fill="#32cd32"/>
<rect x="1183" y="316" width="1" height="25" fill="#ff4500"/>
<rect x="1181" y="325" width="5" height="4" fill="#ff4500"/>
<rect x="1191" y="296" width="1" height="41" fill="#ff4500"/>
<rect x="1189" y="300" width="5" height="25" fill="#ff4500"/>
<rect x="1199" y="291" width="1" height="31" fill="#ff4500"/>
<rect x="1197" y="299" width="5" height="2" fill="#ff4500"/>
<rect x="1207" y="283" width="1" height="37" fill="#ff4500"/>
<rect x="1205" y="295" width="5" height="6" fill="#ff4500"/>
<rect x="1215" y="293" width="1" height="17" fill="#32cd32"/>
<rect x="1213" y="295" width="5" height="6" fill="#32cd32"/>
<rect x="1223" y="300" width="1" height="7" fill="#32cd32"/>
<rect x="1221" y="300" width="5" height="7" fill="#32cd32"/>
<rect x="1231" y="277" width="1" height="35" fill="#ff4500"/>
<rect x="1229" y="281" width="5" height="26" fill="#ff4500"/>
<rect x="1239" y="263" width="1" height="21" fill="#ff4500"/>
<rect x="1237" y="270" width="5" height="12" fill="#ff4500"/>
<rect x="1247" y="255" width="1" height="21" fill="#ff4500"/>
<rect x="1245" y="263" width="5" height="7" fill="#ff4500"/>
<rect x="1255" y="227" width="1" height="38" fill="#ff4500"/>
<rect x="1253" y="237" width="5" height="27" fill="#ff4500"/>
<rect x="1263" y="217" width="1" height="30" fill="#ff4500"/>
<rect x="1261" y="231" width="5" height="7" fill="#ff4500"/>
<rect x="1271" y="225" width="1" height="16" fill="#32cd32"/>
<rect x="1269" y="232" width="5" height="8" fill="#32cd32"/>
<rect x="1279" y="233" width="1" height="16" fill="#32cd32"/>
<rect x="1277" y="238" width="5" height="7" fill="#32cd32"/>
<rect x="1287" y="244" width="1" height="34" fill="#32cd32"/>
<rect x="1285" y="245" width="5" height="33" fill="#32cd32"/>
<rect x="1295" y="264" width="1" height="36" fill="#32cd32"/>
<rect x="1293" y="278" width="5" height="15" fill="#32cd32"/>
<rect x="1303" y="256" width="1" height="42" fill="#ff4500"/>
<rect x="1301" y="286" width="5" height="8" fill="#ff4500"/>
<rect x="1311" y="267" width="1" height="28" fill="#ff4500"/>
<rect x="1309" y="278" width="5" height="8" fill="#ff4500"/>
<rect x="1319" y="273" width="1" height="11" fill="#32cd32"/>
<rect x="1317" y="278" width="5" height="1" fill="#32cd32"/>
</g>
</g>
<g shape-rendering="crispEdges">
<rect x="1672" y="74" width="2" height="1" fill="#000"/>
<rect x="1672" y="123" width="2" height="1" fill="#000"/>
<rect x="1672" y="221" width="2" height="1" fill="#000"/>
<rect x="1672" y="270" width="2" height="1" fill="#000"/>
<rect x="1672" y="368" width="2" height="1" fill="#000"/>
<rect x="1672" y="417" width="2" height="1" fill="#000"/>
<rect x="1672" y="466" width="2" height="1" fill="#000"/>
<rect x="1672" y="515" width="2" height="1" fill="#000"/>
<rect x="1672" y="172" width="2" height="1" fill="#000"/>
<rect x="1672" y="319" width="2" height="1" fill="#000"/>
</g>
<text x="1678" y="79" font-size="12.5" fill="#000" textLength="45.5" lengthAdjust="spacingAndGlyphs">1344.80</text>
<text x="1678" y="128" font-size="12.5" fill="#000" textLength="45.5" lengthAdjust="spacingAndGlyphs">1337.80</text>
<text x="1678" y="226" font-size="12.5" fill="#000" textLength="45.5" lengthAdjust="spacingAndGlyphs">1323.70</text>
<text x="1678" y="275" font-size="12.5" fill="#000" textLength="45.5" lengthAdjust="spacingAndGlyphs">1316.70</text>
<text x="1678" y="373" font-size="12.5" fill="#000" textLength="45.5" lengthAdjust="spacingAndGlyphs">1302.70</text>
<text x="1678" y="422" font-size="12.5" fill="#000" textLength="45.5" lengthAdjust="spacingAndGlyphs">1295.70</text>
<text x="1678" y="471" font-size="12.5" fill="#000" textLength="45.5" lengthAdjust="spacingAndGlyphs">1288.70</text>
<text x="1678" y="520" font-size="12.5" fill="#000" textLength="45.5" lengthAdjust="spacingAndGlyphs">1281.70</text>
<rect x="1673" y="164" width="56" height="14" fill="#ff0000" shape-rendering="crispEdges"/>
<text x="1678" y="176" font-size="12.5" fill="#fff" textLength="45.5" lengthAdjust="spacingAndGlyphs">1331.03</text>
<rect x="1673" y="239" width="56" height="14" fill="#ff0000" shape-rendering="crispEdges"/>
<text x="1678" y="251" font-size="12.5" fill="#fff" textLength="45.5" lengthAdjust="spacingAndGlyphs">1320.33</text>
<rect x="1673" y="271" width="56" height="14" fill="#000" shape-rendering="crispEdges"/>
<text x="1678" y="283" font-size="12.5" fill="#fff" textLength="45.5" lengthAdjust="spacingAndGlyphs">1315.63</text>
<rect x="1673" y="310" width="56" height="14" fill="#00ff80" shape-rendering="crispEdges"/>
<text x="1678" y="322" font-size="12.5" fill="#fff" textLength="45.5" lengthAdjust="spacingAndGlyphs">1310.20</text>
<rect x="1673" y="381" width="56" height="14" fill="#0000ff" shape-rendering="crispEdges"/>
<text x="1678" y="393" font-size="12.5" fill="#fff" textLength="45.5" lengthAdjust="spacingAndGlyphs">1300.00</text>
<text x="770" y="130" font-size="50" fill="#ff2010" textLength="364" lengthAdjust="spacingAndGlyphs" style="font-family:'Liberation Sans','Noto Sans CJK SC',sans-serif">多空转折点1310</text>
<polygon points="18,49 27,49 22.5,44" fill="#000"/>
<text x="33" y="50.5" font-size="12.5" fill="#000" textLength="68.5" lengthAdjust="spacingAndGlyphs">XAUUSD-,H4</text>
<text x="110.5" y="50.5" font-size="12.5" fill="#000" textLength="45.2" lengthAdjust="spacingAndGlyphs">1315.65</text>
<text x="160.7" y="50.5" font-size="12.5" fill="#000" textLength="44.6" lengthAdjust="spacingAndGlyphs">1316.33</text>
<text x="210.8" y="50.5" font-size="12.5" fill="#000" textLength="44.3" lengthAdjust="spacingAndGlyphs">1314.92</text>
<text x="260.7" y="50.5" font-size="12.5" fill="#000" textLength="44.6" lengthAdjust="spacingAndGlyphs">1315.63</text>
<g shape-rendering="crispEdges">
<rect x="17" y="59" width="286" height="78" fill="#fff"/>
<rect x="18" y="59" width="68" height="28" fill="#0000b0"/>
<rect x="233" y="59" width="68" height="28" fill="#0000b0"/>
<rect x="18" y="86" width="141" height="49" fill="#0000b0"/>
<rect x="161" y="86" width="140" height="49" fill="#0000b0"/>
<rect x="19" y="60" width="66" height="27" fill="url(#gs)"/>
<rect x="234" y="60" width="66" height="27" fill="url(#gs)"/>
<rect x="19" y="87" width="139" height="47" fill="url(#gs)"/>
<rect x="19" y="86" width="66" height="1" fill="url(#gs)"/>
<rect x="162" y="87" width="138" height="47" fill="url(#gs)"/>
<rect x="234" y="86" width="66" height="1" fill="url(#gs)"/>
<rect x="22" y="85" width="60" height="1" fill="#000084"/>
<rect x="237" y="85" width="60" height="1" fill="#000084"/>
<rect x="22" y="86" width="60" height="1" fill="#7878ff"/>
<rect x="237" y="86" width="60" height="1" fill="#7878ff"/>
<rect x="88" y="59" width="143" height="25" fill="#b0b0b8"/>
<rect x="89" y="60" width="141" height="23" fill="#fff"/>
<rect x="90" y="61" width="21" height="21" fill="url(#gb)"/>
<rect x="208" y="61" width="21" height="21" fill="url(#gb)"/>
<rect x="112" y="60" width="1" height="23" fill="#b0b0b8"/>
<rect x="206" y="60" width="1" height="23" fill="#b0b0b8"/>
</g>
<polygon points="96.9,70 104.1,70 100.5,74.2" fill="#4c64c0"/>
<polygon points="214.7,73.3 222.2,73.3 218.45,68.9" fill="#4c64c0"/>
<text x="35.5" y="77.5" font-size="14" fill="#fff" textLength="32.5" lengthAdjust="spacingAndGlyphs">SELL</text>
<text x="252.7" y="77.5" font-size="14" fill="#fff" textLength="27.8" lengthAdjust="spacingAndGlyphs">BUY</text>
<text x="172.7" y="76.7" font-size="14" fill="#000" textLength="29.8" lengthAdjust="spacingAndGlyphs">1.00</text>
<text x="48.5" y="123.6" font-size="15" fill="#fff" textLength="35" lengthAdjust="spacingAndGlyphs" font-weight="bold">1315</text>
<text x="190.3" y="123.6" font-size="15" fill="#fff" textLength="35" lengthAdjust="spacingAndGlyphs" font-weight="bold">1315</text>
<text x="87.8" y="124.3" font-size="40" fill="#fff" textLength="43.5" lengthAdjust="spacingAndGlyphs">62</text>
<text x="231.5" y="124.3" font-size="40" fill="#fff" textLength="43.5" lengthAdjust="spacingAndGlyphs">98</text>
<g shape-rendering="crispEdges">
<rect x="15" y="561" width="1" height="4" fill="#c0c0c0"/>
<rect x="23" y="560" width="1" height="5" fill="#c0c0c0"/>
<rect x="31" y="557" width="1" height="8" fill="#c0c0c0"/>
<rect x="39" y="556" width="1" height="9" fill="#c0c0c0"/>
<rect x="47" y="555" width="1" height="10" fill="#c0c0c0"/>
<rect x="55" y="555" width="1" height="10" fill="#c0c0c0"/>
<rect x="63" y="555" width="1" height="10" fill="#c0c0c0"/>
<rect x="71" y="554" width="1" height="11" fill="#c0c0c0"/>
<rect x="79" y="554" width="1" height="11" fill="#c0c0c0"/>
<rect x="87" y="553" width="1" height="12" fill="#c0c0c0"/>
<rect x="95" y="552" width="1" height="13" fill="#c0c0c0"/>
<rect x="103" y="549" width="1" height="16" fill="#c0c0c0"/>
<rect x="111" y="549" width="1" height="16" fill="#c0c0c0"/>
<rect x="119" y="546" width="1" height="19" fill="#c0c0c0"/>
<rect x="127" y="545" width="1" height="20" fill="#c0c0c0"/>
<rect x="135" y="544" width="1" height="21" fill="#c0c0c0"/>
<rect x="143" y="542" width="1" height="23" fill="#c0c0c0"/>
<rect x="151" y="541" width="1" height="24" fill="#c0c0c0"/>
<rect x="159" y="542" width="1" height="23" fill="#c0c0c0"/>
<rect x="167" y="542" width="1" height="23" fill="#c0c0c0"/>
<rect x="175" y="542" width="1" height="23" fill="#c0c0c0"/>
<rect x="183" y="544" width="1" height="21" fill="#c0c0c0"/>
<rect x="191" y="546" width="1" height="19" fill="#c0c0c0"/>
<rect x="199" y="550" width="1" height="15" fill="#c0c0c0"/>
<rect x="207" y="553" width="1" height="12" fill="#c0c0c0"/>
<rect x="215" y="557" width="1" height="8" fill="#c0c0c0"/>
<rect x="223" y="559" width="1" height="6" fill="#c0c0c0"/>
<rect x="231" y="562" width="1" height="3" fill="#c0c0c0"/>
<rect x="239" y="563" width="1" height="2" fill="#c0c0c0"/>
<rect x="247" y="564" width="1" height="1" fill="#c0c0c0"/>
<rect x="255" y="564" width="1" height="2" fill="#c0c0c0"/>
<rect x="263" y="564" width="1" height="2" fill="#c0c0c0"/>
<rect x="271" y="564" width="1" height="2" fill="#c0c0c0"/>
<rect x="279" y="564" width="1" height="2" fill="#c0c0c0"/>
<rect x="287" y="564" width="1" height="2" fill="#c0c0c0"/>
<rect x="295" y="564" width="1" height="2" fill="#c0c0c0"/>
<rect x="303" y="564" width="1" height="2" fill="#c0c0c0"/>
<rect x="311" y="564" width="1" height="2" fill="#c0c0c0"/>
<rect x="319" y="564" width="1" height="3" fill="#c0c0c0"/>
<rect x="327" y="564" width="1" height="3" fill="#c0c0c0"/>
<rect x="335" y="564" width="1" height="3" fill="#c0c0c0"/>
<rect x="343" y="564" width="1" height="3" fill="#c0c0c0"/>
<rect x="351" y="564" width="1" height="3" fill="#c0c0c0"/>
<rect x="359" y="564" width="1" height="3" fill="#c0c0c0"/>
<rect x="367" y="564" width="1" height="4" fill="#c0c0c0"/>
<rect x="375" y="564" width="1" height="4" fill="#c0c0c0"/>
<rect x="383" y="564" width="1" height="4" fill="#c0c0c0"/>
<rect x="391" y="564" width="1" height="4" fill="#c0c0c0"/>
<rect x="399" y="564" width="1" height="4" fill="#c0c0c0"/>
<rect x="407" y="564" width="1" height="5" fill="#c0c0c0"/>
<rect x="415" y="564" width="1" height="6" fill="#c0c0c0"/>
<rect x="423" y="564" width="1" height="6" fill="#c0c0c0"/>
<rect x="431" y="564" width="1" height="7" fill="#c0c0c0"/>
<rect x="439" y="564" width="1" height="8" fill="#c0c0c0"/>
<rect x="447" y="564" width="1" height="10" fill="#c0c0c0"/>
<rect x="455" y="564" width="1" height="11" fill="#c0c0c0"/>
<rect x="463" y="564" width="1" height="12" fill="#c0c0c0"/>
<rect x="471" y="564" width="1" height="14" fill="#c0c0c0"/>
<rect x="479" y="564" width="1" height="15" fill="#c0c0c0"/>
<rect x="487" y="564" width="1" height="17" fill="#c0c0c0"/>
<rect x="495" y="564" width="1" height="19" fill="#c0c0c0"/>
<rect x="503" y="564" width="1" height="21" fill="#c0c0c0"/>
<rect x="511" y="564" width="1" height="23" fill="#c0c0c0"/>
<rect x="519" y="564" width="1" height="26" fill="#c0c0c0"/>
<rect x="527" y="564" width="1" height="28" fill="#c0c0c0"/>
<rect x="535" y="564" width="1" height="29" fill="#c0c0c0"/>
<rect x="543" y="564" width="1" height="30" fill="#c0c0c0"/>
<rect x="551" y="564" width="1" height="31" fill="#c0c0c0"/>
<rect x="559" y="564" width="1" height="32" fill="#c0c0c0"/>
<rect x="567" y="564" width="1" height="31" fill="#c0c0c0"/>
<rect x="575" y="564" width="1" height="31" fill="#c0c0c0"/>
<rect x="583" y="564" width="1" height="30" fill="#c0c0c0"/>
<rect x="591" y="564" width="1" height="30" fill="#c0c0c0"/>
<rect x="599" y="564" width="1" height="28" fill="#c0c0c0"/>
<rect x="607" y="564" width="1" height="27" fill="#c0c0c0"/>
<rect x="615" y="564" width="1" height="25" fill="#c0c0c0"/>
<rect x="623" y="564" width="1" height="24" fill="#c0c0c0"/>
<rect x="631" y="564" width="1" height="23" fill="#c0c0c0"/>
<rect x="639" y="564" width="1" height="22" fill="#c0c0c0"/>
<rect x="647" y="564" width="1" height="21" fill="#c0c0c0"/>
<rect x="655" y="564" width="1" height="20" fill="#c0c0c0"/>
<rect x="663" y="564" width="1" height="18" fill="#c0c0c0"/>
<rect x="671" y="564" width="1" height="17" fill="#c0c0c0"/>
<rect x="679" y="564" width="1" height="16" fill="#c0c0c0"/>
<rect x="687" y="564" width="1" height="15" fill="#c0c0c0"/>
<rect x="695" y="564" width="1" height="14" fill="#c0c0c0"/>
<rect x="703" y="564" width="1" height="13" fill="#c0c0c0"/>
<rect x="711" y="564" width="1" height="12" fill="#c0c0c0"/>
<rect x="719" y="564" width="1" height="10" fill="#c0c0c0"/>
<rect x="727" y="564" width="1" height="7" fill="#c0c0c0"/>
<rect x="735" y="564" width="1" height="4" fill="#c0c0c0"/>
<rect x="743" y="564" width="1" height="1" fill="#c0c0c0"/>
<rect x="751" y="564" width="1" height="1" fill="#c0c0c0"/>
<rect x="759" y="564" width="1" height="1" fill="#c0c0c0"/>
<rect x="767" y="564" width="1" height="1" fill="#c0c0c0"/>
<rect x="775" y="564" width="1" height="1" fill="#c0c0c0"/>
<rect x="783" y="564" width="1" height="1" fill="#c0c0c0"/>
<rect x="791" y="564" width="1" height="1" fill="#c0c0c0"/>
<rect x="799" y="564" width="1" height="1" fill="#c0c0c0"/>
<rect x="807" y="563" width="1" height="2" fill="#c0c0c0"/>
<rect x="815" y="563" width="1" height="2" fill="#c0c0c0"/>
<rect x="823" y="562" width="1" height="3" fill="#c0c0c0"/>
<rect x="831" y="561" width="1" height="4" fill="#c0c0c0"/>
<rect x="839" y="560" width="1" height="5" fill="#c0c0c0"/>
<rect x="847" y="559" width="1" height="6" fill="#c0c0c0"/>
<rect x="855" y="558" width="1" height="7" fill="#c0c0c0"/>
<rect x="863" y="556" width="1" height="9" fill="#c0c0c0"/>
<rect x="871" y="555" width="1" height="10" fill="#c0c0c0"/>
<rect x="879" y="553" width="1" height="12" fill="#c0c0c0"/>
<rect x="887" y="553" width="1" height="12" fill="#c0c0c0"/>
<rect x="895" y="553" width="1" height="12" fill="#c0c0c0"/>
<rect x="903" y="554" width="1" height="11" fill="#c0c0c0"/>
<rect x="911" y="556" width="1" height="9" fill="#c0c0c0"/>
<rect x="919" y="559" width="1" height="6" fill="#c0c0c0"/>
<rect x="927" y="561" width="1" height="4" fill="#c0c0c0"/>
<rect x="935" y="562" width="1" height="3" fill="#c0c0c0"/>
<rect x="943" y="563" width="1" height="2" fill="#c0c0c0"/>
<rect x="951" y="563" width="1" height="2" fill="#c0c0c0"/>
<rect x="959" y="562" width="1" height="3" fill="#c0c0c0"/>
<rect x="967" y="560" width="1" height="5" fill="#c0c0c0"/>
<rect x="975" y="560" width="1" height="5" fill="#c0c0c0"/>
<rect x="983" y="560" width="1" height="5" fill="#c0c0c0"/>
<rect x="991" y="560" width="1" height="5" fill="#c0c0c0"/>
<rect x="999" y="560" width="1" height="5" fill="#c0c0c0"/>
<rect x="1007" y="560" width="1" height="5" fill="#c0c0c0"/>
<rect x="1015" y="560" width="1" height="5" fill="#c0c0c0"/>
<rect x="1023" y="560" width="1" height="5" fill="#c0c0c0"/>
<rect x="1031" y="560" width="1" height="5" fill="#c0c0c0"/>
<rect x="1039" y="560" width="1" height="5" fill="#c0c0c0"/>
<rect x="1047" y="560" width="1" height="5" fill="#c0c0c0"/>
<rect x="1055" y="560" width="1" height="5" fill="#c0c0c0"/>
<rect x="1063" y="560" width="1" height="5" fill="#c0c0c0"/>
<rect x="1071" y="560" width="1" height="5" fill="#c0c0c0"/>
<rect x="1079" y="560" width="1" height="5" fill="#c0c0c0"/>
<rect x="1087" y="560" width="1" height="5" fill="#c0c0c0"/>
<rect x="1095" y="560" width="1" height="5" fill="#c0c0c0"/>
<rect x="1103" y="560" width="1" height="5" fill="#c0c0c0"/>
<rect x="1111" y="560" width="1" height="5" fill="#c0c0c0"/>
<rect x="1119" y="560" width="1" height="5" fill="#c0c0c0"/>
<rect x="1127" y="560" width="1" height="5" fill="#c0c0c0"/>
<rect x="1135" y="557" width="1" height="8" fill="#c0c0c0"/>
<rect x="1143" y="555" width="1" height="10" fill="#c0c0c0"/>
<rect x="1151" y="554" width="1" height="11" fill="#c0c0c0"/>
<rect x="1159" y="555" width="1" height="10" fill="#c0c0c0"/>
<rect x="1167" y="555" width="1" height="10" fill="#c0c0c0"/>
<rect x="1175" y="556" width="1" height="9" fill="#c0c0c0"/>
<rect x="1183" y="556" width="1" height="9" fill="#c0c0c0"/>
<rect x="1191" y="556" width="1" height="9" fill="#c0c0c0"/>
<rect x="1199" y="556" width="1" height="9" fill="#c0c0c0"/>
<rect x="1207" y="557" width="1" height="8" fill="#c0c0c0"/>
<rect x="1215" y="557" width="1" height="8" fill="#c0c0c0"/>
<rect x="1223" y="557" width="1" height="8" fill="#c0c0c0"/>
<rect x="1231" y="557" width="1" height="8" fill="#c0c0c0"/>
<rect x="1239" y="557" width="1" height="8" fill="#c0c0c0"/>
<rect x="1247" y="557" width="1" height="8" fill="#c0c0c0"/>
<rect x="1255" y="556" width="1" height="9" fill="#c0c0c0"/>
<rect x="1263" y="555" width="1" height="10" fill="#c0c0c0"/>
<rect x="1271" y="555" width="1" height="10" fill="#c0c0c0"/>
<rect x="1279" y="555" width="1" height="10" fill="#c0c0c0"/>
<rect x="1287" y="555" width="1" height="10" fill="#c0c0c0"/>
<rect x="1295" y="555" width="1" height="10" fill="#c0c0c0"/>
<rect x="1303" y="555" width="1" height="10" fill="#c0c0c0"/>
<rect x="1311" y="555" width="1" height="10" fill="#c0c0c0"/>
<rect x="1319" y="555" width="1" height="10" fill="#c0c0c0"/>
<path d="M387,567h2v1h-2zM392,567h3v1h-3zM777,567h2v1h-2zM579,594h2v1h-2zM584,594h3v1h-3zM590,594h3v1h-3zM596,594h3v1h-3zM602,594h3v1h-3zM608,594h3v1h-3zM38,560h3v1h-3zM266,560h3v1h-3zM860,560h3v1h-3zM968,560h3v1h-3zM1046,560h3v1h-3zM1052,560h3v1h-3zM21,562h2v1h-2zM273,562h2v1h-2zM830,562h3v1h-3zM836,562h3v1h-3zM998,562h3v1h-3zM1004,562h3v1h-3zM1010,562h3v1h-3zM1016,562h3v1h-3zM1022,562h3v1h-3zM1028,562h3v1h-3zM75,556h2v1h-2zM939,556h2v1h-2zM944,556h3v1h-3zM1166,556h3v1h-3zM1172,556h3v1h-3zM1203,556h2v1h-2zM1208,556h3v1h-3zM1214,556h3v1h-3zM1220,556h3v1h-3zM1262,556h3v1h-3zM1268,556h3v1h-3zM326,565h3v1h-3zM332,565h3v1h-3zM338,565h3v1h-3zM344,565h3v1h-3zM350,565h3v1h-3zM356,565h3v1h-3zM788,565h3v1h-3zM81,555h2v1h-2zM249,555h2v1h-2zM885,555h2v1h-2zM890,555h3v1h-3zM896,555h3v1h-3zM932,555h3v1h-3zM1179,555h2v1h-2zM1184,555h3v1h-3zM1190,555h3v1h-3zM1196,555h3v1h-3zM1275,555h2v1h-2zM1280,555h3v1h-3zM1286,555h3v1h-3zM1292,555h3v1h-3zM1298,555h3v1h-3zM1304,555h3v1h-3zM1310,555h3v1h-3zM1316,555h3v1h-3zM435,569h2v1h-2zM440,569h3v1h-3zM764,569h3v1h-3zM27,561h2v1h-2zM32,561h3v1h-3zM843,561h2v1h-2zM848,561h3v1h-3zM854,561h3v1h-3zM974,561h3v1h-3zM980,561h3v1h-3zM986,561h3v1h-3zM992,561h3v1h-3zM1035,561h2v1h-2zM1040,561h3v1h-3zM555,591h2v1h-2zM627,591h2v1h-2zM632,591h3v1h-3zM506,578h3v1h-3zM722,578h3v1h-3zM158,545h3v1h-3zM140,547h3v1h-3zM218,547h3v1h-3zM68,557h3v1h-3zM254,557h3v1h-3zM878,557h3v1h-3zM950,557h3v1h-3zM1148,557h3v1h-3zM1154,557h3v1h-3zM1160,557h3v1h-3zM1227,557h2v1h-2zM1232,557h3v1h-3zM1238,557h3v1h-3zM1244,557h3v1h-3zM1250,557h3v1h-3zM1256,557h3v1h-3zM278,563h3v1h-3zM284,563h3v1h-3zM806,563h3v1h-3zM812,563h3v1h-3zM818,563h3v1h-3zM824,563h3v1h-3zM92,553h3v1h-3zM242,553h3v1h-3zM44,559h3v1h-3zM261,559h2v1h-2zM867,559h2v1h-2zM962,559h3v1h-3zM1059,559h2v1h-2zM1064,559h3v1h-3zM1070,559h3v1h-3zM1076,559h3v1h-3zM1082,559h3v1h-3zM1088,559h3v1h-3zM1094,559h3v1h-3zM1100,559h3v1h-3zM1106,559h3v1h-3zM1112,559h3v1h-3zM1118,559h3v1h-3zM1124,559h3v1h-3zM1130,559h3v1h-3zM1136,559h3v1h-3zM530,585h3v1h-3zM668,585h3v1h-3zM123,549h2v1h-2zM128,549h3v1h-3zM225,549h2v1h-2zM518,582h3v1h-3zM692,582h3v1h-3zM86,554h3v1h-3zM902,554h3v1h-3zM908,554h3v1h-3zM914,554h3v1h-3zM920,554h3v1h-3zM926,554h3v1h-3zM459,572h2v1h-2zM464,572h3v1h-3zM746,572h3v1h-3zM537,587h2v1h-2zM657,587h2v1h-2zM164,544h3v1h-3zM170,544h3v1h-3zM200,544h3v1h-3zM206,544h3v1h-3zM99,552h2v1h-2zM104,552h3v1h-3zM237,552h2v1h-2zM51,558h2v1h-2zM56,558h3v1h-3zM62,558h3v1h-3zM873,558h2v1h-2zM956,558h3v1h-3zM1142,558h3v1h-3zM513,580h2v1h-2zM710,580h3v1h-3zM134,548h3v1h-3zM470,573h3v1h-3zM741,573h2v1h-2zM483,575h2v1h-2zM488,575h3v1h-3zM734,575h3v1h-3zM398,568h3v1h-3zM404,568h3v1h-3zM410,568h3v1h-3zM416,568h3v1h-3zM422,568h3v1h-3zM428,568h3v1h-3zM771,568h2v1h-2zM15,564h2v1h-2zM291,564h2v1h-2zM296,564h3v1h-3zM302,564h3v1h-3zM308,564h3v1h-3zM314,564h3v1h-3zM320,564h3v1h-3zM795,564h2v1h-2zM800,564h3v1h-3zM662,586h3v1h-3zM494,576h3v1h-3zM729,576h2v1h-2zM716,579h3v1h-3zM542,588h3v1h-3zM651,588h2v1h-2zM525,584h2v1h-2zM675,584h2v1h-2zM680,584h3v1h-3zM561,592h2v1h-2zM620,592h3v1h-3zM363,566h2v1h-2zM368,566h3v1h-3zM374,566h3v1h-3zM380,566h3v1h-3zM782,566h3v1h-3zM446,570h3v1h-3zM758,570h3v1h-3zM177,543h2v1h-2zM194,543h3v1h-3zM452,571h3v1h-3zM752,571h3v1h-3zM500,577h3v1h-3zM566,593h3v1h-3zM572,593h3v1h-3zM614,593h3v1h-3zM182,542h3v1h-3zM188,542h3v1h-3zM147,546h2v1h-2zM152,546h3v1h-3zM213,546h2v1h-2zM116,550h3v1h-3zM230,550h3v1h-3zM476,574h3v1h-3zM699,581h2v1h-2zM704,581h3v1h-3zM644,589h3v1h-3zM110,551h3v1h-3zM549,590h2v1h-2zM638,590h3v1h-3zM686,583h3v1h-3zM866,560h1v1h-1zM1058,560h1v1h-1zM26,562h1v1h-1zM842,562h1v1h-1zM1034,562h1v1h-1zM80,556h1v1h-1zM884,556h1v1h-1zM1178,556h1v1h-1zM1226,556h1v1h-1zM1274,556h1v1h-1zM362,565h1v1h-1zM794,565h1v1h-1zM938,555h1v1h-1zM1202,555h1v1h-1zM770,569h1v1h-1zM272,561h1v1h-1zM560,591h1v1h-1zM212,545h1v1h-1zM146,547h1v1h-1zM74,557h1v1h-1zM20,563h1v1h-1zM290,563h1v1h-1zM98,553h1v1h-1zM50,559h1v1h-1zM872,559h1v1h-1zM674,585h1v1h-1zM698,582h1v1h-1zM248,554h1v1h-1zM176,544h1v1h-1zM260,558h1v1h-1zM224,548h1v1h-1zM434,568h1v1h-1zM776,568h1v1h-1zM536,586h1v1h-1zM512,579h1v1h-1zM656,588h1v1h-1zM626,592h1v1h-1zM386,566h1v1h-1zM458,571h1v1h-1zM728,577h1v1h-1zM578,593h1v1h-1zM122,550h1v1h-1zM482,574h1v1h-1zM740,574h1v1h-1zM548,589h1v1h-1zM650,589h1v1h-1zM236,551h1v1h-1zM554,590h1v1h-1zM524,583h1v1h-1z" fill="#ff0000"/>
<rect x="1672" y="564" width="2" height="1" fill="#000"/>
<line x1="16" y1="640.5" x2="1671" y2="640.5" stroke="#c0c0c0" stroke-width="1" stroke-dasharray="3 3"/>
<line x1="16" y1="690.5" x2="1671" y2="690.5" stroke="#c0c0c0" stroke-width="1" stroke-dasharray="3 3"/>
<path d="M713,660h4v1h-4zM763,660h3v1h-3zM802,660h2v1h-2zM811,660h3v1h-3zM967,660h9v1h-9zM1022,660h5v1h-5zM1084,660h2v1h-2zM1159,660h2v1h-2zM1310,660h10v1h-10zM741,653h2v1h-2zM1061,653h4v1h-4zM500,700h2v1h-2zM520,700h2v1h-2zM542,700h11v1h-11zM566,700h3v1h-3zM756,657h2v1h-2zM821,657h3v1h-3zM951,657h2v1h-2zM999,657h2v1h-2zM1013,657h4v1h-4zM1075,657h5v1h-5zM1191,657h10v1h-10zM1213,657h4v1h-4zM711,659h2v1h-2zM761,659h2v1h-2zM800,659h2v1h-2zM814,659h3v1h-3zM901,659h2v1h-2zM965,659h2v1h-2zM1019,659h3v1h-3zM1027,659h5v1h-5zM1082,659h2v1h-2zM1187,659h2v1h-2zM1221,659h3v1h-3zM484,693h2v1h-2zM163,642h6v1h-6zM847,642h2v1h-2zM858,642h2v1h-2zM1132,642h2v1h-2zM1257,642h2v1h-2zM1266,642h2v1h-2zM192,661h2v1h-2zM271,661h2v1h-2zM717,661h3v1h-3zM766,661h2v1h-2zM804,661h2v1h-2zM809,661h2v1h-2zM976,661h2v1h-2zM1086,661h2v1h-2zM1102,661h2v1h-2zM1161,661h4v1h-4zM1184,661h2v1h-2zM1307,661h3v1h-3zM107,631h8v1h-8zM120,631h2v1h-2zM132,631h2v1h-2zM139,631h8v1h-8zM103,632h4v1h-4zM115,632h5v1h-5zM134,632h5v1h-5zM196,663h2v1h-2zM277,663h12v1h-12zM351,663h2v1h-2zM769,663h2v1h-2zM980,663h2v1h-2zM1090,663h2v1h-2zM1098,663h2v1h-2zM1169,663h4v1h-4zM1177,663h4v1h-4zM1290,663h2v1h-2zM1301,663h4v1h-4zM291,665h3v1h-3zM357,665h3v1h-3zM781,665h4v1h-4zM985,665h2v1h-2zM1094,665h2v1h-2zM1294,665h3v1h-3zM211,675h8v1h-8zM225,675h4v1h-4zM232,675h2v1h-2zM327,675h4v1h-4zM918,675h3v1h-3zM446,685h5v1h-5zM459,685h5v1h-5zM613,685h2v1h-2zM616,685h2v1h-2zM643,685h3v1h-3zM651,685h6v1h-6zM752,655h2v1h-2zM957,655h3v1h-3zM1005,655h4v1h-4zM1067,655h3v1h-3zM1205,655h4v1h-4zM1227,655h2v1h-2zM754,656h2v1h-2zM896,656h2v1h-2zM953,656h4v1h-4zM960,656h2v1h-2zM1001,656h4v1h-4zM1009,656h4v1h-4zM1070,656h5v1h-5zM1201,656h4v1h-4zM1209,656h4v1h-4zM728,652h2v1h-2zM739,652h2v1h-2zM1057,652h4v1h-4zM1231,652h2v1h-2zM336,673h2v1h-2zM914,673h2v1h-2zM925,673h6v1h-6zM45,647h2v1h-2zM88,647h2v1h-2zM180,647h2v1h-2zM1119,647h2v1h-2zM1245,647h3v1h-3zM1276,647h2v1h-2zM29,645h2v1h-2zM51,645h8v1h-8zM91,645h2v1h-2zM176,645h2v1h-2zM1125,645h3v1h-3zM1250,645h2v1h-2zM1272,645h2v1h-2zM506,697h2v1h-2zM514,697h2v1h-2zM558,697h3v1h-3zM59,644h13v1h-13zM93,644h2v1h-2zM173,644h3v1h-3zM853,644h3v1h-3zM1128,644h2v1h-2zM1252,644h2v1h-2zM1270,644h2v1h-2zM159,641h4v1h-4zM860,641h2v1h-2zM1134,641h10v1h-10zM1259,641h3v1h-3zM1264,641h2v1h-2zM169,643h4v1h-4zM845,643h2v1h-2zM849,643h4v1h-4zM856,643h2v1h-2zM1130,643h2v1h-2zM1254,643h3v1h-3zM1268,643h2v1h-2zM247,666h2v1h-2zM294,666h3v1h-3zM347,666h2v1h-2zM360,666h2v1h-2zM773,666h2v1h-2zM777,666h4v1h-4zM785,666h2v1h-2zM987,666h3v1h-3zM21,650h3v1h-3zM40,650h2v1h-2zM79,650h2v1h-2zM732,650h2v1h-2zM736,650h2v1h-2zM1235,650h3v1h-3zM126,628h2v1h-2zM219,676h6v1h-6zM194,662h2v1h-2zM273,662h4v1h-4zM806,662h3v1h-3zM978,662h2v1h-2zM1088,662h2v1h-2zM1100,662h2v1h-2zM1165,662h4v1h-4zM1181,662h3v1h-3zM1288,662h2v1h-2zM1305,662h2v1h-2zM47,646h4v1h-4zM73,646h2v1h-2zM178,646h2v1h-2zM841,646h2v1h-2zM1121,646h4v1h-4zM1248,646h2v1h-2zM1274,646h2v1h-2zM865,639h4v1h-4zM743,654h9v1h-9zM1051,654h2v1h-2zM1065,654h2v1h-2zM758,658h3v1h-3zM817,658h4v1h-4zM899,658h2v1h-2zM963,658h2v1h-2zM1017,658h2v1h-2zM1080,658h2v1h-2zM1189,658h2v1h-2zM1217,658h4v1h-4zM504,698h2v1h-2zM516,698h2v1h-2zM555,698h3v1h-3zM561,698h2v1h-2zM573,698h6v1h-6zM412,683h2v1h-2zM441,683h2v1h-2zM683,683h3v1h-3zM689,683h2v1h-2zM254,669h10v1h-10zM302,669h3v1h-3zM366,669h5v1h-5zM379,669h5v1h-5zM939,669h2v1h-2zM17,649h4v1h-4zM77,649h2v1h-2zM81,649h4v1h-4zM734,649h2v1h-2zM831,649h4v1h-4zM1238,649h3v1h-3zM198,664h2v1h-2zM289,664h2v1h-2zM353,664h4v1h-4zM982,664h3v1h-3zM1092,664h2v1h-2zM1096,664h2v1h-2zM1173,664h4v1h-4zM1292,664h2v1h-2zM1297,664h4v1h-4zM862,640h3v1h-3zM1262,640h2v1h-2zM464,686h2v1h-2zM611,686h2v1h-2zM641,686h2v1h-2zM657,686h2v1h-2zM878,634h2v1h-2zM410,682h2v1h-2zM439,682h2v1h-2zM681,682h2v1h-2zM691,682h3v1h-3zM207,674h4v1h-4zM229,674h3v1h-3zM331,674h5v1h-5zM916,674h2v1h-2zM921,674h4v1h-4zM124,629h2v1h-2zM128,629h2v1h-2zM305,670h4v1h-4zM312,670h2v1h-2zM342,670h2v1h-2zM371,670h8v1h-8zM730,651h2v1h-2zM1055,651h2v1h-2zM1233,651h2v1h-2zM467,688h2v1h-2zM598,688h5v1h-5zM608,688h2v1h-2zM621,688h2v1h-2zM625,688h4v1h-4zM662,688h2v1h-2zM309,671h3v1h-3zM340,671h2v1h-2zM936,671h2v1h-2zM1110,671h2v1h-2zM874,636h2v1h-2zM251,668h3v1h-3zM299,668h3v1h-3zM315,668h2v1h-2zM364,668h2v1h-2zM790,668h2v1h-2zM941,668h2v1h-2zM15,648h2v1h-2zM25,648h2v1h-2zM35,648h2v1h-2zM43,648h2v1h-2zM85,648h3v1h-3zM182,648h2v1h-2zM835,648h5v1h-5zM1241,648h4v1h-4zM1278,648h2v1h-2zM526,703h11v1h-11zM872,637h2v1h-2zM883,637h2v1h-2zM508,696h2v1h-2zM512,696h2v1h-2zM249,667h2v1h-2zM297,667h2v1h-2zM317,667h2v1h-2zM362,667h2v1h-2zM775,667h2v1h-2zM787,667h3v1h-3zM990,667h2v1h-2zM482,692h2v1h-2zM698,679h2v1h-2zM496,702h2v1h-2zM524,702h2v1h-2zM537,702h2v1h-2zM869,638h3v1h-3zM885,638h2v1h-2zM405,681h2v1h-2zM408,681h2v1h-2zM671,681h10v1h-10zM694,681h2v1h-2zM486,694h2v1h-2zM401,684h2v1h-2zM414,684h2v1h-2zM443,684h3v1h-3zM451,684h8v1h-8zM646,684h5v1h-5zM667,684h2v1h-2zM686,684h3v1h-3zM510,695h2v1h-2zM480,691h2v1h-2zM591,691h2v1h-2zM338,672h2v1h-2zM912,672h2v1h-2zM931,672h5v1h-5zM876,635h2v1h-2zM880,635h2v1h-2zM619,687h2v1h-2zM629,687h12v1h-12zM659,687h3v1h-3zM122,630h2v1h-2zM130,630h2v1h-2zM147,630h5v1h-5zM498,701h2v1h-2zM522,701h2v1h-2zM539,701h3v1h-3zM471,690h9v1h-9zM593,690h2v1h-2zM469,689h2v1h-2zM595,689h3v1h-3zM603,689h5v1h-5zM623,689h2v1h-2zM502,699h2v1h-2zM518,699h2v1h-2zM553,699h2v1h-2zM563,699h3v1h-3zM569,699h4v1h-4zM579,699h5v1h-5zM696,680h2v1h-2zM235,677h2v1h-2zM702,677h2v1h-2zM237,678h2v1h-2zM700,678h2v1h-2zM191,660h1v1h-1zM711,660h1v1h-1zM720,660h1v1h-1zM797,660h1v2h-1zM903,660h1v1h-1zM949,659h1v2h-1zM997,659h1v2h-1zM1115,658h1v4h-1zM1186,660h1v1h-1zM1286,659h1v2h-1zM186,652h1v2h-1zM727,653h1v1h-1zM827,653h1v1h-1zM894,652h1v2h-1zM1036,653h1v1h-1zM1042,653h1v1h-1zM1053,653h1v1h-1zM1117,652h1v3h-1zM1153,652h1v2h-1zM1230,653h1v1h-1zM1282,653h1v1h-1zM492,700h1v1h-1zM189,657h1v1h-1zM723,657h1v1h-1zM898,657h1v1h-1zM962,657h1v1h-1zM1033,657h1v1h-1zM1046,657h1v1h-1zM1048,657h1v1h-1zM1116,655h1v3h-1zM1157,657h1v2h-1zM1225,657h1v1h-1zM1285,657h1v2h-1zM190,658h1v2h-1zM721,659h1v1h-1zM798,659h1v1h-1zM1158,659h1v1h-1zM589,693h1v1h-1zM96,641h1v2h-1zM889,642h1v2h-1zM1144,642h1v1h-1zM710,661h1v2h-1zM904,661h1v2h-1zM948,661h1v1h-1zM996,661h1v1h-1zM1287,661h1v1h-1zM152,631h1v2h-1zM269,663h1v1h-1zM709,663h1v2h-1zM795,663h1v1h-1zM905,663h1v1h-1zM946,663h1v1h-1zM994,663h1v1h-1zM1104,662h1v2h-1zM1114,662h1v3h-1zM200,665h1v1h-1zM267,665h1v1h-1zM349,665h1v1h-1zM708,665h1v2h-1zM772,665h1v1h-1zM793,665h1v2h-1zM907,665h1v2h-1zM945,664h1v2h-1zM993,664h1v2h-1zM1106,665h1v1h-1zM1113,665h1v3h-1zM241,675h1v2h-1zM388,675h1v1h-1zM423,675h1v1h-1zM436,675h1v2h-1zM704,674h1v2h-1zM398,685h1v1h-1zM400,685h1v1h-1zM666,685h1v1h-1zM188,655h1v2h-1zM725,655h1v1h-1zM825,655h1v1h-1zM895,654h1v2h-1zM1035,654h1v2h-1zM1044,655h1v1h-1zM1050,655h1v1h-1zM1155,655h1v1h-1zM1283,654h1v2h-1zM724,656h1v1h-1zM824,656h1v1h-1zM1034,656h1v1h-1zM1045,656h1v1h-1zM1049,656h1v1h-1zM1156,656h1v1h-1zM1226,656h1v1h-1zM1284,656h1v1h-1zM828,652h1v1h-1zM1037,652h1v1h-1zM1041,652h1v1h-1zM1054,652h1v1h-1zM1281,651h1v2h-1zM206,673h1v1h-1zM243,672h1v2h-1zM325,673h1v1h-1zM387,673h1v2h-1zM425,673h1v1h-1zM435,673h1v2h-1zM705,672h1v2h-1zM27,647h1v1h-1zM34,647h1v1h-1zM75,647h1v1h-1zM840,647h1v1h-1zM891,646h1v2h-1zM1148,647h1v1h-1zM32,645h1v1h-1zM72,645h1v1h-1zM843,645h1v1h-1zM890,644h1v2h-1zM1147,645h1v2h-1zM490,697h1v1h-1zM585,697h1v1h-1zM31,644h1v1h-1zM844,644h1v1h-1zM1146,644h1v1h-1zM888,640h1v2h-1zM95,643h1v1h-1zM1145,643h1v1h-1zM201,666h1v2h-1zM266,666h1v1h-1zM319,666h1v1h-1zM431,666h1v1h-1zM944,666h1v1h-1zM992,666h1v1h-1zM1107,666h1v2h-1zM38,650h1v1h-1zM184,649h1v2h-1zM830,650h1v1h-1zM893,650h1v2h-1zM1039,650h1v1h-1zM1118,649h1v3h-1zM1151,650h1v1h-1zM1280,649h1v2h-1zM234,676h1v1h-1zM389,676h1v1h-1zM422,676h1v1h-1zM703,676h1v1h-1zM270,662h1v1h-1zM768,662h1v1h-1zM796,662h1v1h-1zM947,662h1v1h-1zM995,662h1v1h-1zM28,646h1v1h-1zM33,646h1v1h-1zM90,646h1v1h-1zM98,639h1v1h-1zM158,639h1v2h-1zM887,639h1v1h-1zM187,654h1v1h-1zM726,654h1v1h-1zM826,654h1v1h-1zM1043,654h1v1h-1zM1154,654h1v1h-1zM1229,654h1v1h-1zM722,658h1v1h-1zM799,658h1v1h-1zM950,658h1v1h-1zM998,658h1v1h-1zM1032,658h1v1h-1zM1047,658h1v1h-1zM1224,658h1v1h-1zM491,698h1v2h-1zM584,698h1v1h-1zM396,683h1v1h-1zM403,683h1v1h-1zM416,683h1v1h-1zM669,683h1v1h-1zM203,669h1v1h-1zM245,669h1v2h-1zM314,669h1v1h-1zM322,669h1v1h-1zM344,669h1v1h-1zM428,669h1v1h-1zM433,669h1v2h-1zM707,667h1v3h-1zM910,669h1v2h-1zM1109,669h1v1h-1zM1112,668h1v3h-1zM24,649h1v1h-1zM37,649h1v1h-1zM42,649h1v1h-1zM892,648h1v2h-1zM1150,649h1v1h-1zM268,664h1v1h-1zM350,664h1v1h-1zM771,664h1v1h-1zM794,664h1v1h-1zM906,664h1v1h-1zM1105,664h1v1h-1zM97,640h1v1h-1zM399,686h1v1h-1zM618,686h1v1h-1zM665,686h1v1h-1zM102,633h1v2h-1zM154,634h1v1h-1zM395,682h1v1h-1zM404,682h1v1h-1zM417,682h1v1h-1zM670,682h1v1h-1zM242,674h1v1h-1zM326,674h1v1h-1zM424,674h1v1h-1zM204,670h1v1h-1zM323,670h1v2h-1zM384,670h1v1h-1zM427,670h1v2h-1zM706,670h1v2h-1zM938,670h1v1h-1zM1110,670h1v1h-1zM39,651h1v1h-1zM185,651h1v1h-1zM738,651h1v1h-1zM829,651h1v1h-1zM1038,651h1v1h-1zM1040,651h1v1h-1zM1152,651h1v1h-1zM205,671h1v2h-1zM244,671h1v1h-1zM385,671h1v1h-1zM434,671h1v2h-1zM911,671h1v1h-1zM100,636h1v1h-1zM155,635h1v2h-1zM882,636h1v1h-1zM202,668h1v1h-1zM246,667h1v2h-1zM264,668h1v1h-1zM321,668h1v1h-1zM345,668h1v1h-1zM429,668h1v1h-1zM432,667h1v2h-1zM909,668h1v1h-1zM1108,668h1v1h-1zM76,648h1v1h-1zM1119,648h1v1h-1zM1149,648h1v1h-1zM495,703h1v1h-1zM99,637h1v2h-1zM156,637h1v1h-1zM489,696h1v1h-1zM586,696h1v1h-1zM265,667h1v1h-1zM320,667h1v1h-1zM346,667h1v1h-1zM430,667h1v1h-1zM792,667h1v1h-1zM908,667h1v1h-1zM943,667h1v1h-1zM590,692h1v1h-1zM239,679h1v1h-1zM392,679h1v1h-1zM419,679h1v2h-1zM438,679h1v2h-1zM494,702h1v1h-1zM157,638h1v1h-1zM394,681h1v1h-1zM418,681h1v1h-1zM439,681h1v1h-1zM588,694h1v1h-1zM397,684h1v1h-1zM615,684h1v1h-1zM488,695h1v1h-1zM587,695h1v1h-1zM324,672h1v1h-1zM386,672h1v1h-1zM426,672h1v1h-1zM1111,672h1v1h-1zM101,635h1v1h-1zM466,687h1v1h-1zM610,687h1v1h-1zM664,687h1v1h-1zM493,701h1v1h-1zM393,680h1v1h-1zM407,680h1v1h-1zM240,677h1v2h-1zM390,677h1v1h-1zM421,677h1v1h-1zM437,677h1v2h-1zM391,678h1v1h-1zM420,678h1v1h-1zM153,633h1v1h-1z" fill="#1e90ff"/>
<rect x="15" y="730" width="1" height="3" fill="#000"/>
<rect x="111" y="730" width="1" height="3" fill="#000"/>
<rect x="207" y="730" width="1" height="3" fill="#000"/>
<rect x="303" y="730" width="1" height="3" fill="#000"/>
<rect x="399" y="730" width="1" height="3" fill="#000"/>
<rect x="495" y="730" width="1" height="3" fill="#000"/>
<rect x="591" y="730" width="1" height="3" fill="#000"/>
<rect x="687" y="730" width="1" height="3" fill="#000"/>
<rect x="783" y="730" width="1" height="3" fill="#000"/>
<rect x="879" y="730" width="1" height="3" fill="#000"/>
<rect x="975" y="730" width="1" height="3" fill="#000"/>
<rect x="1071" y="730" width="1" height="3" fill="#000"/>
<rect x="1167" y="730" width="1" height="3" fill="#000"/>
<rect x="1263" y="730" width="1" height="3" fill="#000"/>
</g>
<text x="19.3" y="552" font-size="12.5" fill="#000" textLength="156.5" lengthAdjust="spacingAndGlyphs">MACD(12,26,9) 2.092 3.020</text>
<text x="19.3" y="616" font-size="12.5" fill="#000" textLength="91" lengthAdjust="spacingAndGlyphs">RSI(14) 53.6605</text>
<text x="1675.5" y="549.5" font-size="12.5" fill="#000" textLength="31.5" lengthAdjust="spacingAndGlyphs">8.648</text>
<text x="1675.5" y="569" font-size="12.5" fill="#000" textLength="24" lengthAdjust="spacingAndGlyphs">0.00</text>
<text x="1675.5" y="594.5" font-size="12.5" fill="#000" textLength="42" lengthAdjust="spacingAndGlyphs">-10.933</text>
<text x="1674.5" y="613.5" font-size="12.5" fill="#000" textLength="20.5" lengthAdjust="spacingAndGlyphs">100</text>
<text x="1674.5" y="644.7" font-size="12.5" fill="#000" textLength="13.5" lengthAdjust="spacingAndGlyphs">70</text>
<text x="1674.5" y="694.7" font-size="12.5" fill="#000" textLength="13.5" lengthAdjust="spacingAndGlyphs">30</text>
<text x="1675.5" y="725.7" font-size="12.5" fill="#000">0</text>
<text x="14.6" y="745" font-size="12.5" fill="#000" textLength="68" lengthAdjust="spacingAndGlyphs">15 Feb 2019</text>
<text x="110.6" y="745" font-size="12.5" fill="#000" textLength="72" lengthAdjust="spacingAndGlyphs">19 Feb 16:00</text>
<text x="206.6" y="745" font-size="12.5" fill="#000" textLength="72" lengthAdjust="spacingAndGlyphs">21 Feb 16:00</text>
<text x="302.6" y="745" font-size="12.5" fill="#000" textLength="72" lengthAdjust="spacingAndGlyphs">25 Feb 16:00</text>
<text x="398.6" y="745" font-size="12.5" fill="#000" textLength="72" lengthAdjust="spacingAndGlyphs">27 Feb 16:00</text>
<text x="494.6" y="745" font-size="12.5" fill="#000" textLength="64" lengthAdjust="spacingAndGlyphs">1 Mar 16:00</text>
<text x="590.6" y="745" font-size="12.5" fill="#000" textLength="64" lengthAdjust="spacingAndGlyphs">5 Mar 16:00</text>
<text x="686.6" y="745" font-size="12.5" fill="#000" textLength="64" lengthAdjust="spacingAndGlyphs">7 Mar 16:00</text>
<text x="782.6" y="745" font-size="12.5" fill="#000" textLength="70.8" lengthAdjust="spacingAndGlyphs">11 Mar 16:00</text>
<text x="878.6" y="745" font-size="12.5" fill="#000" textLength="70.8" lengthAdjust="spacingAndGlyphs">13 Mar 16:00</text>
<text x="974.6" y="745" font-size="12.5" fill="#000" textLength="70.8" lengthAdjust="spacingAndGlyphs">15 Mar 16:00</text>
<text x="1070.6" y="745" font-size="12.5" fill="#000" textLength="70.8" lengthAdjust="spacingAndGlyphs">19 Mar 16:00</text>
<text x="1166.6" y="745" font-size="12.5" fill="#000" textLength="70.8" lengthAdjust="spacingAndGlyphs">21 Mar 16:00</text>
<text x="1262.6" y="745" font-size="12.5" fill="#000" textLength="70.8" lengthAdjust="spacingAndGlyphs">25 Mar 16:00</text>
<g shape-rendering="crispEdges">
<rect x="7" y="1" width="32" height="1" fill="#fff"/>
<rect x="7" y="1" width="1" height="30" fill="#fff"/>
<rect x="38" y="1" width="1" height="30" fill="#a0a0a0"/>
<rect x="7" y="30" width="32" height="1" fill="#a0a0a0"/>
<rect x="189" y="0" width="1" height="32" fill="#a0a0a0"/>
<rect x="190" y="0" width="1" height="32" fill="#fff"/>
<rect x="193" y="3" width="3" height="1" fill="#b0b0b0"/>
<rect x="193" y="5" width="3" height="1" fill="#b0b0b0"/>
<rect x="193" y="7" width="3" height="1" fill="#b0b0b0"/>
<rect x="193" y="9" width="3" height="1" fill="#b0b0b0"/>
<rect x="193" y="11" width="3" height="1" fill="#b0b0b0"/>
<rect x="193" y="13" width="3" height="1" fill="#b0b0b0"/>
<rect x="193" y="15" width="3" height="1" fill="#b0b0b0"/>
<rect x="193" y="17" width="3" height="1" fill="#b0b0b0"/>
<rect x="193" y="19" width="3" height="1" fill="#b0b0b0"/>
<rect x="193" y="21" width="3" height="1" fill="#b0b0b0"/>
<rect x="193" y="23" width="3" height="1" fill="#b0b0b0"/>
<rect x="193" y="25" width="3" height="1" fill="#b0b0b0"/>
<rect x="193" y="27" width="3" height="1" fill="#b0b0b0"/>
<rect x="193" y="29" width="3" height="1" fill="#b0b0b0"/>
<rect x="504" y="0" width="1" height="32" fill="#a0a0a0"/>
<rect x="369" y="1" width="31" height="29" fill="#f8f8f8"/>
<rect x="369" y="1" width="31" height="1" fill="#a0a0a0"/>
<rect x="369" y="1" width="1" height="29" fill="#a0a0a0"/>
<rect x="399" y="1" width="1" height="29" fill="#fff"/>
<rect x="369" y="29" width="31" height="1" fill="#fff"/>
<rect x="118" y="9" width="1" height="1" fill="#505050"/>
<rect x="118" y="24" width="1" height="1" fill="#505050"/>
<rect x="120" y="9" width="1" height="1" fill="#505050"/>
<rect x="120" y="24" width="1" height="1" fill="#505050"/>
<rect x="122" y="9" width="1" height="1" fill="#505050"/>
<rect x="122" y="24" width="1" height="1" fill="#505050"/>
<rect x="124" y="9" width="1" height="1" fill="#505050"/>
<rect x="124" y="24" width="1" height="1" fill="#505050"/>
<rect x="126" y="9" width="1" height="1" fill="#505050"/>
<rect x="126" y="24" width="1" height="1" fill="#505050"/>
<rect x="128" y="9" width="1" height="1" fill="#505050"/>
<rect x="128" y="24" width="1" height="1" fill="#505050"/>
<rect x="130" y="9" width="1" height="1" fill="#505050"/>
<rect x="130" y="24" width="1" height="1" fill="#505050"/>
<rect x="132" y="9" width="1" height="1" fill="#505050"/>
<rect x="132" y="24" width="1" height="1" fill="#505050"/>
<rect x="118" y="9" width="1" height="1" fill="#505050"/>
<rect x="133" y="9" width="1" height="1" fill="#505050"/>
<rect x="118" y="11" width="1" height="1" fill="#505050"/>
<rect x="133" y="11" width="1" height="1" fill="#505050"/>
<rect x="118" y="13" width="1" height="1" fill="#505050"/>
<rect x="133" y="13" width="1" height="1" fill="#505050"/>
<rect x="118" y="15" width="1" height="1" fill="#505050"/>
<rect x="133" y="15" width="1" height="1" fill="#505050"/>
<rect x="118" y="17" width="1" height="1" fill="#505050"/>
<rect x="133" y="17" width="1" height="1" fill="#505050"/>
<rect x="118" y="19" width="1" height="1" fill="#505050"/>
<rect x="133" y="19" width="1" height="1" fill="#505050"/>
<rect x="118" y="21" width="1" height="1" fill="#505050"/>
<rect x="133" y="21" width="1" height="1" fill="#505050"/>
<rect x="118" y="23" width="1" height="1" fill="#505050"/>
<rect x="133" y="23" width="1" height="1" fill="#505050"/>
<rect x="117" y="7" width="2" height="2" fill="#707070"/>
<rect x="120" y="12" width="10" height="2" fill="#707070"/>
<rect x="124" y="14" width="3" height="9" fill="#707070"/>
</g>
<line x1="48.5" y1="8" x2="65.5" y2="8" stroke="#585858" stroke-width="1.3" stroke-dasharray="1.2 1.3"/>
<line x1="48.5" y1="12" x2="65.5" y2="12" stroke="#585858" stroke-width="1.3" stroke-dasharray="1.2 1.3"/>
<line x1="48.5" y1="16.9" x2="65.5" y2="16.9" stroke="#585858" stroke-width="1.3" stroke-dasharray="1.2 1.3"/>
<line x1="48.5" y1="21.9" x2="60.5" y2="21.9" stroke="#585858" stroke-width="1.3" stroke-dasharray="1.2 1.3"/>
<g stroke="#000" fill="none" stroke-width="1.2"><path d="M11.8,17.3 L22.2,7.5"/><path d="M18.5,23.7 L30,13.6"/><path d="M13.3,22.5 L15.3,15.3 L16.7,19.9 L19.6,12.4 L21.6,19 L24.8,10.4 L27.1,6 L28.6,13.6 M14.5,18.5 L17.5,16 M18,17.5 L21.5,14.5 M22,15.5 L26.5,11.5" stroke-width="1.8" stroke-linejoin="round"/></g>
<text x="25.8" y="26.5" font-size="9.2" fill="#000" font-weight="bold">E</text>
<text x="60.7" y="27.2" font-size="9.2" fill="#606060" font-weight="bold">F</text>
<text x="85.5" y="22.5" font-size="16" fill="#606060" font-weight="bold">A</text>
<g fill="#606060"><polygon points="150.8,13.5 155.1,8.7 159.4,13.5 157,14.2 153.2,14.2"/><polygon points="159.7,20 168.4,20 164,24.8"/></g>
<path d="M153.4,18.2 L156.3,20.8 L162,13.8" stroke="#585858" stroke-width="1.8" fill="none"/>
<polygon points="173.9,15.1 181.4,15.1 177.6,19" fill="#000"/>
<text x="205.5" y="21.3" font-size="12" fill="#585858" textLength="17" lengthAdjust="spacingAndGlyphs">M1</text>
<text x="239.5" y="21.3" font-size="12" fill="#585858" textLength="17" lengthAdjust="spacingAndGlyphs">M5</text>
<text x="271.2" y="21.3" font-size="12" fill="#585858" textLength="23.3" lengthAdjust="spacingAndGlyphs">M15</text>
<text x="305.2" y="21.3" font-size="12" fill="#585858" textLength="23.1" lengthAdjust="spacingAndGlyphs">M30</text>
<text x="343.0" y="21.3" font-size="12" fill="#585858" textLength="15.5" lengthAdjust="spacingAndGlyphs">H1</text>
<text x="375.5" y="21.3" font-size="12" fill="#585858" textLength="16.7" lengthAdjust="spacingAndGlyphs">H4</text>
<text x="411.2" y="21.3" font-size="12" fill="#585858" textLength="15.3" lengthAdjust="spacingAndGlyphs">D1</text>
<text x="444.5" y="21.3" font-size="12" fill="#585858" textLength="18.4" lengthAdjust="spacingAndGlyphs">W1</text>
<text x="476.5" y="21.3" font-size="12" fill="#585858" textLength="19.2" lengthAdjust="spacingAndGlyphs">MN</text>
</svg>
</body></html>
